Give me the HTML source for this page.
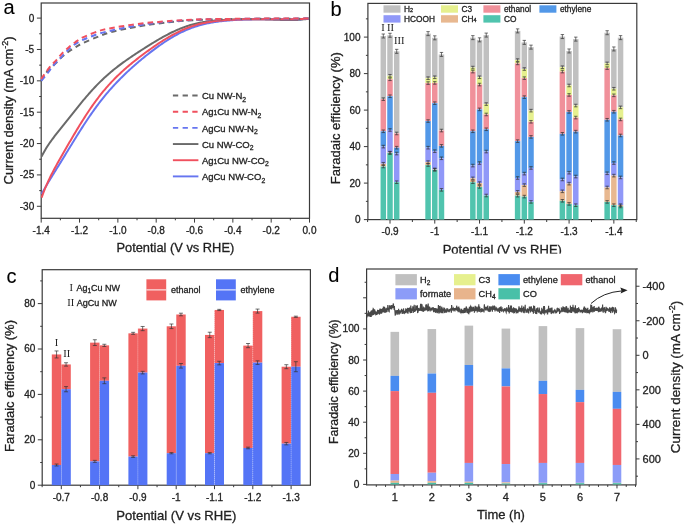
<!DOCTYPE html>
<html><head><meta charset="utf-8"><style>html,body{margin:0;padding:0;background:#fff;overflow:hidden}svg{display:block;will-change:transform}text{font-family:"Liberation Sans",sans-serif;stroke:#222;stroke-width:0.3px} .serif text{font-family:"Liberation Serif",serif;stroke-width:0}</style></head>
<body><svg width="685" height="524" viewBox="0 0 685 524">
<rect width="685" height="524" fill="#fff"/>
<text x="3.5" y="13.8" font-size="20" text-anchor="start" fill="#000" style="stroke-width:0.1px">a</text>
<text x="330.6" y="15.8" font-size="20" text-anchor="start" fill="#000" style="stroke-width:0.1px">b</text>
<text x="6.5" y="282.6" font-size="20" text-anchor="start" fill="#000" style="stroke-width:0.1px">c</text>
<text x="328.3" y="281.7" font-size="20" text-anchor="start" fill="#000" style="stroke-width:0.1px">d</text>
<rect x="41.2" y="3.0" width="268.3" height="215.3" fill="none" stroke="#3a3a3a" stroke-width="1.2"/>
<line x1="36.9" y1="18.1" x2="41.2" y2="18.1" stroke="#3a3a3a" stroke-width="1" />
<text x="34.2" y="21.5" font-size="10" text-anchor="end" fill="#1e1e1e" >0</text>
<line x1="36.9" y1="49.47" x2="41.2" y2="49.47" stroke="#3a3a3a" stroke-width="1" />
<text x="34.2" y="52.87" font-size="10" text-anchor="end" fill="#1e1e1e" >-5</text>
<line x1="36.9" y1="80.83" x2="41.2" y2="80.83" stroke="#3a3a3a" stroke-width="1" />
<text x="34.2" y="84.23" font-size="10" text-anchor="end" fill="#1e1e1e" >-10</text>
<line x1="36.9" y1="112.19" x2="41.2" y2="112.19" stroke="#3a3a3a" stroke-width="1" />
<text x="34.2" y="115.59" font-size="10" text-anchor="end" fill="#1e1e1e" >-15</text>
<line x1="36.9" y1="143.56" x2="41.2" y2="143.56" stroke="#3a3a3a" stroke-width="1" />
<text x="34.2" y="146.96" font-size="10" text-anchor="end" fill="#1e1e1e" >-20</text>
<line x1="36.9" y1="174.92" x2="41.2" y2="174.92" stroke="#3a3a3a" stroke-width="1" />
<text x="34.2" y="178.32" font-size="10" text-anchor="end" fill="#1e1e1e" >-25</text>
<line x1="36.9" y1="206.29" x2="41.2" y2="206.29" stroke="#3a3a3a" stroke-width="1" />
<text x="34.2" y="209.69" font-size="10" text-anchor="end" fill="#1e1e1e" >-30</text>
<line x1="39.2" y1="33.78" x2="41.2" y2="33.78" stroke="#3a3a3a" stroke-width="1" />
<line x1="39.2" y1="65.15" x2="41.2" y2="65.15" stroke="#3a3a3a" stroke-width="1" />
<line x1="39.2" y1="96.51" x2="41.2" y2="96.51" stroke="#3a3a3a" stroke-width="1" />
<line x1="39.2" y1="127.88" x2="41.2" y2="127.88" stroke="#3a3a3a" stroke-width="1" />
<line x1="39.2" y1="159.24" x2="41.2" y2="159.24" stroke="#3a3a3a" stroke-width="1" />
<line x1="39.2" y1="190.61" x2="41.2" y2="190.61" stroke="#3a3a3a" stroke-width="1" />
<line x1="41.2" y1="218.3" x2="41.2" y2="222.6" stroke="#3a3a3a" stroke-width="1" />
<text x="41.2" y="234" font-size="10" text-anchor="middle" fill="#1e1e1e" >-1.4</text>
<line x1="60.36" y1="218.3" x2="60.36" y2="220.3" stroke="#3a3a3a" stroke-width="1" />
<line x1="79.53" y1="218.3" x2="79.53" y2="222.6" stroke="#3a3a3a" stroke-width="1" />
<text x="79.53" y="234" font-size="10" text-anchor="middle" fill="#1e1e1e" >-1.2</text>
<line x1="98.69" y1="218.3" x2="98.69" y2="220.3" stroke="#3a3a3a" stroke-width="1" />
<line x1="117.86" y1="218.3" x2="117.86" y2="222.6" stroke="#3a3a3a" stroke-width="1" />
<text x="117.86" y="234" font-size="10" text-anchor="middle" fill="#1e1e1e" >-1.0</text>
<line x1="137.02" y1="218.3" x2="137.02" y2="220.3" stroke="#3a3a3a" stroke-width="1" />
<line x1="156.19" y1="218.3" x2="156.19" y2="222.6" stroke="#3a3a3a" stroke-width="1" />
<text x="156.19" y="234" font-size="10" text-anchor="middle" fill="#1e1e1e" >-0.8</text>
<line x1="175.35" y1="218.3" x2="175.35" y2="220.3" stroke="#3a3a3a" stroke-width="1" />
<line x1="194.52" y1="218.3" x2="194.52" y2="222.6" stroke="#3a3a3a" stroke-width="1" />
<text x="194.52" y="234" font-size="10" text-anchor="middle" fill="#1e1e1e" >-0.6</text>
<line x1="213.68" y1="218.3" x2="213.68" y2="220.3" stroke="#3a3a3a" stroke-width="1" />
<line x1="232.85" y1="218.3" x2="232.85" y2="222.6" stroke="#3a3a3a" stroke-width="1" />
<text x="232.85" y="234" font-size="10" text-anchor="middle" fill="#1e1e1e" >-0.4</text>
<line x1="252.01" y1="218.3" x2="252.01" y2="220.3" stroke="#3a3a3a" stroke-width="1" />
<line x1="271.18" y1="218.3" x2="271.18" y2="222.6" stroke="#3a3a3a" stroke-width="1" />
<text x="271.18" y="234" font-size="10" text-anchor="middle" fill="#1e1e1e" >-0.2</text>
<line x1="290.34" y1="218.3" x2="290.34" y2="220.3" stroke="#3a3a3a" stroke-width="1" />
<line x1="309.51" y1="218.3" x2="309.51" y2="222.6" stroke="#3a3a3a" stroke-width="1" />
<text x="309.51" y="234" font-size="10" text-anchor="middle" fill="#1e1e1e" >0.0</text>
<text x="175.35" y="252.2" font-size="12.85" text-anchor="middle" fill="#1e1e1e" >Potential (V vs RHE)</text>
<text transform="translate(13.2,110.4) rotate(-90)" font-size="13" text-anchor="middle" fill="#1e1e1e">Current density (mA cm<tspan font-size="9" dy="-4.8">-2</tspan><tspan dy="4.8">)</tspan></text>
<g fill="none" stroke-width="2" stroke-linejoin="round">
<path d="M41.60,156.54 L42.60,154.56 L43.60,152.68 L44.60,150.90 L45.60,149.20 L46.60,147.58 L47.60,146.01 L48.60,144.50 L49.60,143.04 L50.60,141.62 L51.60,140.23 L52.60,138.87 L53.60,137.53 L54.60,136.21 L55.60,134.91 L56.60,133.63 L57.60,132.35 L58.60,131.08 L59.60,129.82 L60.60,128.56 L61.60,127.30 L62.60,126.05 L63.60,124.80 L64.60,123.54 L65.60,122.29 L66.60,121.04 L67.60,119.78 L68.60,118.53 L69.60,117.27 L70.60,116.02 L71.60,114.76 L72.60,113.51 L73.60,112.26 L74.60,111.01 L75.60,109.76 L76.60,108.52 L77.60,107.28 L78.60,106.04 L79.60,104.82 L80.60,103.59 L81.60,102.38 L82.60,101.17 L83.60,99.98 L84.60,98.79 L85.60,97.61 L86.60,96.44 L87.60,95.28 L88.60,94.14 L89.60,93.00 L90.60,91.88 L91.60,90.77 L92.60,89.68 L93.60,88.59 L94.60,87.52 L95.60,86.47 L96.60,85.43 L97.60,84.40 L98.60,83.39 L99.60,82.39 L100.60,81.40 L101.60,80.43 L102.60,79.47 L103.60,78.53 L104.60,77.60 L105.60,76.69 L106.60,75.78 L107.60,74.89 L108.60,74.02 L109.60,73.15 L110.60,72.30 L111.60,71.46 L112.60,70.63 L113.60,69.81 L114.60,69.01 L115.60,68.21 L116.60,67.43 L117.60,66.65 L118.60,65.88 L119.60,65.13 L120.60,64.38 L121.60,63.64 L122.60,62.90 L123.60,62.18 L124.60,61.46 L125.60,60.74 L126.60,60.04 L127.60,59.34 L128.60,58.64 L129.60,57.95 L130.60,57.27 L131.60,56.59 L132.60,55.92 L133.60,55.24 L134.60,54.58 L135.60,53.91 L136.60,53.25 L137.60,52.60 L138.60,51.94 L139.60,51.29 L140.60,50.65 L141.60,50.00 L142.60,49.36 L143.60,48.72 L144.60,48.08 L145.60,47.45 L146.60,46.82 L147.60,46.19 L148.60,45.57 L149.60,44.94 L150.60,44.32 L151.60,43.71 L152.60,43.10 L153.60,42.49 L154.60,41.89 L155.60,41.29 L156.60,40.69 L157.60,40.10 L158.60,39.51 L159.60,38.93 L160.60,38.36 L161.60,37.79 L162.60,37.23 L163.60,36.67 L164.60,36.12 L165.60,35.58 L166.60,35.04 L167.60,34.52 L168.60,34.00 L169.60,33.49 L170.60,32.98 L171.60,32.49 L172.60,32.01 L173.60,31.53 L174.60,31.07 L175.60,30.61 L176.60,30.16 L177.60,29.73 L178.60,29.30 L179.60,28.89 L180.60,28.48 L181.60,28.09 L182.60,27.71 L183.60,27.33 L184.60,26.97 L185.60,26.62 L186.60,26.28 L187.60,25.95 L188.60,25.64 L189.60,25.33 L190.60,25.03 L191.60,24.74 L192.60,24.47 L193.60,24.20 L194.60,23.94 L195.60,23.70 L196.60,23.46 L197.60,23.23 L198.60,23.01 L199.60,22.80 L200.60,22.60 L201.60,22.41 L202.60,22.23 L203.60,22.05 L204.60,21.88 L205.60,21.72 L206.60,21.57 L207.60,21.43 L208.60,21.29 L209.60,21.16 L210.60,21.03 L211.60,20.91 L212.60,20.80 L213.60,20.69 L214.60,20.59 L215.60,20.49 L216.60,20.40 L217.60,20.31 L218.60,20.23 L219.60,20.15 L220.60,20.08 L221.60,20.01 L222.60,19.95 L223.60,19.88 L224.60,19.83 L225.60,19.77 L226.60,19.72 L227.60,19.67 L228.60,19.63 L229.60,19.59 L230.60,19.55 L231.60,19.51 L232.60,19.47 L233.60,19.44 L234.60,19.41 L235.60,19.39 L236.60,19.36 L237.60,19.34 L238.60,19.32 L239.60,19.30 L240.60,19.28 L241.60,19.26 L242.60,19.25 L243.60,19.24 L244.60,19.23 L245.60,19.22 L246.60,19.21 L247.60,19.21 L248.60,19.20 L249.60,19.20 L250.60,19.20 L251.60,19.20 L252.60,19.20 L253.60,19.21 L254.60,19.21 L255.60,19.22 L256.60,19.23 L257.60,19.24 L258.60,19.25 L259.60,19.27 L260.60,19.28 L261.60,19.30 L262.60,19.32 L263.60,19.34 L264.60,19.36 L265.60,19.38 L266.60,19.41 L267.60,19.43 L268.60,19.46 L269.60,19.49 L270.60,19.53 L271.60,19.56 L272.60,19.59 L273.60,19.63 L274.60,19.67 L275.60,19.70 L276.60,19.74 L277.60,19.78 L278.60,19.82 L279.60,19.86 L280.60,19.89 L281.60,19.93 L282.60,19.97 L283.60,20.00 L284.60,20.03 L285.60,20.06 L286.60,20.08 L287.60,20.10 L288.60,20.11 L289.60,20.11 L290.60,20.11 L291.60,20.11 L292.60,20.09 L293.60,20.07 L294.60,20.03 L295.60,19.99 L296.60,19.94 L297.60,19.88 L298.60,19.81 L299.60,19.74 L300.60,19.65 L301.60,19.56 L302.60,19.47 L303.60,19.37 L304.60,19.27 L305.60,19.16 L306.60,19.06 L307.60,18.96 L308.60,18.86" stroke="#6a6a6a"/>
<path d="M41.60,194.04 L42.60,192.19 L43.60,190.39 L44.60,188.63 L45.60,186.90 L46.60,185.19 L47.60,183.51 L48.60,181.85 L49.60,180.20 L50.60,178.56 L51.60,176.93 L52.60,175.31 L53.60,173.69 L54.60,172.07 L55.60,170.46 L56.60,168.84 L57.60,167.23 L58.60,165.61 L59.60,163.99 L60.60,162.37 L61.60,160.75 L62.60,159.12 L63.60,157.49 L64.60,155.86 L65.60,154.23 L66.60,152.60 L67.60,150.96 L68.60,149.33 L69.60,147.69 L70.60,146.06 L71.60,144.43 L72.60,142.80 L73.60,141.17 L74.60,139.55 L75.60,137.94 L76.60,136.33 L77.60,134.73 L78.60,133.13 L79.60,131.55 L80.60,129.97 L81.60,128.40 L82.60,126.84 L83.60,125.30 L84.60,123.76 L85.60,122.24 L86.60,120.73 L87.60,119.24 L88.60,117.76 L89.60,116.29 L90.60,114.84 L91.60,113.40 L92.60,111.98 L93.60,110.57 L94.60,109.18 L95.60,107.80 L96.60,106.44 L97.60,105.10 L98.60,103.77 L99.60,102.46 L100.60,101.17 L101.60,99.89 L102.60,98.63 L103.60,97.38 L104.60,96.15 L105.60,94.93 L106.60,93.73 L107.60,92.55 L108.60,91.38 L109.60,90.22 L110.60,89.08 L111.60,87.96 L112.60,86.85 L113.60,85.75 L114.60,84.66 L115.60,83.59 L116.60,82.53 L117.60,81.49 L118.60,80.45 L119.60,79.43 L120.60,78.42 L121.60,77.42 L122.60,76.43 L123.60,75.45 L124.60,74.48 L125.60,73.53 L126.60,72.58 L127.60,71.64 L128.60,70.71 L129.60,69.78 L130.60,68.87 L131.60,67.97 L132.60,67.07 L133.60,66.18 L134.60,65.30 L135.60,64.42 L136.60,63.56 L137.60,62.70 L138.60,61.84 L139.60,61.00 L140.60,60.16 L141.60,59.32 L142.60,58.50 L143.60,57.68 L144.60,56.86 L145.60,56.06 L146.60,55.26 L147.60,54.46 L148.60,53.67 L149.60,52.89 L150.60,52.12 L151.60,51.35 L152.60,50.59 L153.60,49.83 L154.60,49.09 L155.60,48.35 L156.60,47.62 L157.60,46.89 L158.60,46.17 L159.60,45.46 L160.60,44.76 L161.60,44.07 L162.60,43.38 L163.60,42.71 L164.60,42.04 L165.60,41.38 L166.60,40.73 L167.60,40.09 L168.60,39.46 L169.60,38.84 L170.60,38.23 L171.60,37.63 L172.60,37.04 L173.60,36.46 L174.60,35.89 L175.60,35.33 L176.60,34.79 L177.60,34.25 L178.60,33.73 L179.60,33.21 L180.60,32.71 L181.60,32.22 L182.60,31.74 L183.60,31.27 L184.60,30.81 L185.60,30.37 L186.60,29.94 L187.60,29.51 L188.60,29.10 L189.60,28.70 L190.60,28.32 L191.60,27.94 L192.60,27.58 L193.60,27.22 L194.60,26.88 L195.60,26.55 L196.60,26.23 L197.60,25.92 L198.60,25.62 L199.60,25.33 L200.60,25.05 L201.60,24.78 L202.60,24.52 L203.60,24.27 L204.60,24.03 L205.60,23.79 L206.60,23.57 L207.60,23.36 L208.60,23.15 L209.60,22.95 L210.60,22.76 L211.60,22.58 L212.60,22.41 L213.60,22.24 L214.60,22.08 L215.60,21.93 L216.60,21.78 L217.60,21.64 L218.60,21.50 L219.60,21.38 L220.60,21.25 L221.60,21.14 L222.60,21.03 L223.60,20.92 L224.60,20.82 L225.60,20.72 L226.60,20.63 L227.60,20.54 L228.60,20.46 L229.60,20.38 L230.60,20.30 L231.60,20.23 L232.60,20.17 L233.60,20.10 L234.60,20.04 L235.60,19.98 L236.60,19.93 L237.60,19.87 L238.60,19.82 L239.60,19.78 L240.60,19.73 L241.60,19.69 L242.60,19.65 L243.60,19.61 L244.60,19.58 L245.60,19.55 L246.60,19.51 L247.60,19.49 L248.60,19.46 L249.60,19.43 L250.60,19.41 L251.60,19.39 L252.60,19.36 L253.60,19.34 L254.60,19.33 L255.60,19.31 L256.60,19.29 L257.60,19.28 L258.60,19.27 L259.60,19.26 L260.60,19.25 L261.60,19.24 L262.60,19.23 L263.60,19.22 L264.60,19.21 L265.60,19.21 L266.60,19.20 L267.60,19.20 L268.60,19.20 L269.60,19.20 L270.60,19.19 L271.60,19.19 L272.60,19.19 L273.60,19.19 L274.60,19.20 L275.60,19.20 L276.60,19.20 L277.60,19.20 L278.60,19.20 L279.60,19.21 L280.60,19.21 L281.60,19.21 L282.60,19.22 L283.60,19.22 L284.60,19.22 L285.60,19.23 L286.60,19.23 L287.60,19.23 L288.60,19.23 L289.60,19.23 L290.60,19.23 L291.60,19.23 L292.60,19.23 L293.60,19.23 L294.60,19.22 L295.60,19.21 L296.60,19.20 L297.60,19.19 L298.60,19.18 L299.60,19.17 L300.60,19.15 L301.60,19.13 L302.60,19.11 L303.60,19.08 L304.60,19.06 L305.60,19.03 L306.60,18.99 L307.60,18.96 L308.60,18.93" stroke="#6675f0"/>
<path d="M41.60,197.67 L42.60,194.86 L43.60,192.19 L44.60,189.65 L45.60,187.22 L46.60,184.88 L47.60,182.63 L48.60,180.46 L49.60,178.35 L50.60,176.30 L51.60,174.30 L52.60,172.35 L53.60,170.43 L54.60,168.55 L55.60,166.69 L56.60,164.86 L57.60,163.04 L58.60,161.25 L59.60,159.46 L60.60,157.69 L61.60,155.93 L62.60,154.18 L63.60,152.44 L64.60,150.70 L65.60,148.97 L66.60,147.24 L67.60,145.52 L68.60,143.80 L69.60,142.09 L70.60,140.38 L71.60,138.68 L72.60,136.99 L73.60,135.30 L74.60,133.62 L75.60,131.95 L76.60,130.28 L77.60,128.63 L78.60,126.99 L79.60,125.35 L80.60,123.73 L81.60,122.12 L82.60,120.53 L83.60,118.94 L84.60,117.38 L85.60,115.82 L86.60,114.29 L87.60,112.77 L88.60,111.27 L89.60,109.78 L90.60,108.31 L91.60,106.86 L92.60,105.43 L93.60,104.02 L94.60,102.63 L95.60,101.26 L96.60,99.90 L97.60,98.57 L98.60,97.26 L99.60,95.96 L100.60,94.69 L101.60,93.43 L102.60,92.20 L103.60,90.98 L104.60,89.78 L105.60,88.60 L106.60,87.44 L107.60,86.30 L108.60,85.18 L109.60,84.07 L110.60,82.99 L111.60,81.92 L112.60,80.86 L113.60,79.82 L114.60,78.80 L115.60,77.79 L116.60,76.80 L117.60,75.82 L118.60,74.86 L119.60,73.91 L120.60,72.97 L121.60,72.04 L122.60,71.13 L123.60,70.23 L124.60,69.34 L125.60,68.46 L126.60,67.59 L127.60,66.73 L128.60,65.88 L129.60,65.04 L130.60,64.21 L131.60,63.39 L132.60,62.57 L133.60,61.76 L134.60,60.96 L135.60,60.17 L136.60,59.38 L137.60,58.60 L138.60,57.82 L139.60,57.05 L140.60,56.29 L141.60,55.53 L142.60,54.78 L143.60,54.03 L144.60,53.29 L145.60,52.56 L146.60,51.82 L147.60,51.10 L148.60,50.38 L149.60,49.66 L150.60,48.95 L151.60,48.24 L152.60,47.54 L153.60,46.85 L154.60,46.16 L155.60,45.47 L156.60,44.79 L157.60,44.12 L158.60,43.45 L159.60,42.79 L160.60,42.14 L161.60,41.49 L162.60,40.85 L163.60,40.22 L164.60,39.60 L165.60,38.98 L166.60,38.37 L167.60,37.77 L168.60,37.18 L169.60,36.60 L170.60,36.02 L171.60,35.46 L172.60,34.90 L173.60,34.36 L174.60,33.82 L175.60,33.30 L176.60,32.79 L177.60,32.28 L178.60,31.79 L179.60,31.31 L180.60,30.84 L181.60,30.38 L182.60,29.93 L183.60,29.50 L184.60,29.07 L185.60,28.66 L186.60,28.26 L187.60,27.87 L188.60,27.49 L189.60,27.12 L190.60,26.76 L191.60,26.42 L192.60,26.09 L193.60,25.76 L194.60,25.45 L195.60,25.15 L196.60,24.86 L197.60,24.58 L198.60,24.32 L199.60,24.06 L200.60,23.81 L201.60,23.57 L202.60,23.34 L203.60,23.12 L204.60,22.91 L205.60,22.71 L206.60,22.51 L207.60,22.33 L208.60,22.15 L209.60,21.98 L210.60,21.82 L211.60,21.67 L212.60,21.52 L213.60,21.38 L214.60,21.25 L215.60,21.12 L216.60,21.00 L217.60,20.88 L218.60,20.77 L219.60,20.67 L220.60,20.57 L221.60,20.48 L222.60,20.39 L223.60,20.30 L224.60,20.22 L225.60,20.15 L226.60,20.08 L227.60,20.01 L228.60,19.94 L229.60,19.88 L230.60,19.83 L231.60,19.77 L232.60,19.72 L233.60,19.67 L234.60,19.63 L235.60,19.59 L236.60,19.55 L237.60,19.51 L238.60,19.47 L239.60,19.44 L240.60,19.41 L241.60,19.38 L242.60,19.35 L243.60,19.33 L244.60,19.31 L245.60,19.29 L246.60,19.27 L247.60,19.25 L248.60,19.23 L249.60,19.22 L250.60,19.20 L251.60,19.19 L252.60,19.18 L253.60,19.17 L254.60,19.16 L255.60,19.16 L256.60,19.15 L257.60,19.15 L258.60,19.14 L259.60,19.14 L260.60,19.14 L261.60,19.14 L262.60,19.14 L263.60,19.14 L264.60,19.15 L265.60,19.15 L266.60,19.15 L267.60,19.16 L268.60,19.17 L269.60,19.17 L270.60,19.18 L271.60,19.19 L272.60,19.20 L273.60,19.20 L274.60,19.21 L275.60,19.22 L276.60,19.23 L277.60,19.24 L278.60,19.25 L279.60,19.26 L280.60,19.27 L281.60,19.28 L282.60,19.28 L283.60,19.29 L284.60,19.29 L285.60,19.30 L286.60,19.30 L287.60,19.30 L288.60,19.29 L289.60,19.29 L290.60,19.28 L291.60,19.27 L292.60,19.25 L293.60,19.24 L294.60,19.22 L295.60,19.19 L296.60,19.16 L297.60,19.13 L298.60,19.10 L299.60,19.06 L300.60,19.02 L301.60,18.98 L302.60,18.93 L303.60,18.88 L304.60,18.83 L305.60,18.78 L306.60,18.73 L307.60,18.68 L308.60,18.63" stroke="#f0505e"/>
<path d="M41.2,80.8 C42.12,79.37 44.67,74.75 46.7,72.2 C48.73,69.65 51.18,67.72 53.4,65.5 C55.62,63.28 57.78,60.97 60,58.9 C62.22,56.83 64.3,54.93 66.7,53.1 C69.1,51.27 71.7,49.57 74.4,47.9 C77.1,46.23 78.83,45.02 82.9,43.1 C86.97,41.18 94.37,38.15 98.8,36.4 C103.23,34.65 105.97,33.67 109.5,32.6 C113.03,31.53 115.65,30.93 120,30 C124.35,29.07 129.23,28.08 135.6,27 C141.97,25.92 148.05,24.67 158.2,23.5 C168.35,22.33 181.03,20.77 196.5,20 C211.97,19.23 232.2,19.13 251,18.9 C269.8,18.67 299.58,18.65 309.3,18.6" stroke="#6a6a6a" stroke-dasharray="5.6,4.1"/>
<path d="M41.2,80.8 C42.27,79.53 45.57,75.75 47.6,73.2 C49.63,70.65 51.33,67.97 53.4,65.5 C55.47,63.03 57.93,60.62 60,58.4 C62.07,56.18 63.73,54.27 65.8,52.2 C67.87,50.13 70.02,47.83 72.4,46 C74.78,44.17 77.38,42.63 80.1,41.2 C82.82,39.77 85.58,38.65 88.7,37.4 C91.82,36.15 95.33,34.77 98.8,33.7 C102.27,32.63 105.97,31.83 109.5,31 C113.03,30.17 115.65,29.57 120,28.7 C124.35,27.83 129.23,26.82 135.6,25.8 C141.97,24.78 148.05,23.62 158.2,22.6 C168.35,21.58 181.03,20.33 196.5,19.7 C211.97,19.07 232.2,18.98 251,18.8 C269.8,18.62 299.58,18.63 309.3,18.6" stroke="#6675f0" stroke-dasharray="5.6,4.1"/>
<path d="M41.2,78.9 C42.58,76.98 47,70.5 49.5,67.4 C52,64.3 54.13,62.6 56.2,60.3 C58.27,58 59.83,55.75 61.9,53.6 C63.97,51.45 66.37,49.3 68.6,47.4 C70.83,45.5 72.92,43.87 75.3,42.2 C77.68,40.53 78.98,39.27 82.9,37.4 C86.82,35.53 94.37,32.5 98.8,31 C103.23,29.5 105.97,29.13 109.5,28.4 C113.03,27.67 115.65,27.3 120,26.6 C124.35,25.9 129.23,24.98 135.6,24.2 C141.97,23.42 148.05,22.68 158.2,21.9 C168.35,21.12 181.03,20.03 196.5,19.5 C211.97,18.97 232.2,18.87 251,18.7 C269.8,18.53 299.58,18.53 309.3,18.5" stroke="#f0505e" stroke-dasharray="5.6,4.1"/>
</g>
<line x1="172.9" y1="95.5" x2="198.4" y2="95.5" stroke="#6a6a6a" stroke-width="1.9" stroke-dasharray="5.3,4.4"/>
<text x="201.9" y="99.2" font-size="9.5" fill="#1e1e1e">Cu NW-N<tspan font-size="6.8" dy="2.4">2</tspan></text>
<line x1="172.9" y1="111.68" x2="198.4" y2="111.68" stroke="#f0505e" stroke-width="1.9" stroke-dasharray="5.3,4.4"/>
<text x="201.9" y="115.38" font-size="9.5" fill="#1e1e1e">Ag<tspan font-size="6.5">1</tspan>Cu NW-N<tspan font-size="6.8" dy="2.4">2</tspan></text>
<line x1="172.9" y1="127.86" x2="198.4" y2="127.86" stroke="#6675f0" stroke-width="1.9" stroke-dasharray="5.3,4.4"/>
<text x="201.9" y="131.56" font-size="9.5" fill="#1e1e1e">AgCu NW-N<tspan font-size="6.8" dy="2.4">2</tspan></text>
<line x1="172.9" y1="144.04" x2="198.4" y2="144.04" stroke="#6a6a6a" stroke-width="1.9" />
<text x="201.9" y="147.74" font-size="9.5" fill="#1e1e1e">Cu NW-CO<tspan font-size="6.8" dy="2.4">2</tspan></text>
<line x1="172.9" y1="160.22" x2="198.4" y2="160.22" stroke="#f0505e" stroke-width="1.9" />
<text x="201.9" y="163.92" font-size="9.5" fill="#1e1e1e">Ag<tspan font-size="6.5">1</tspan>Cu NW-CO<tspan font-size="6.8" dy="2.4">2</tspan></text>
<line x1="172.9" y1="176.4" x2="198.4" y2="176.4" stroke="#6675f0" stroke-width="1.9" />
<text x="201.9" y="180.1" font-size="9.5" fill="#1e1e1e">AgCu NW-CO<tspan font-size="6.8" dy="2.4">2</tspan></text>
<rect x="367.9" y="3.4" width="268.9" height="216.2" fill="none" stroke="#3a3a3a" stroke-width="1.2"/>
<line x1="363.9" y1="219.6" x2="367.9" y2="219.6" stroke="#3a3a3a" stroke-width="1" />
<text x="360.5" y="223" font-size="10" text-anchor="end" fill="#1e1e1e" >0</text>
<line x1="363.9" y1="183.1" x2="367.9" y2="183.1" stroke="#3a3a3a" stroke-width="1" />
<text x="360.5" y="186.5" font-size="10" text-anchor="end" fill="#1e1e1e" >20</text>
<line x1="363.9" y1="146.6" x2="367.9" y2="146.6" stroke="#3a3a3a" stroke-width="1" />
<text x="360.5" y="150" font-size="10" text-anchor="end" fill="#1e1e1e" >40</text>
<line x1="363.9" y1="110.1" x2="367.9" y2="110.1" stroke="#3a3a3a" stroke-width="1" />
<text x="360.5" y="113.5" font-size="10" text-anchor="end" fill="#1e1e1e" >60</text>
<line x1="363.9" y1="73.6" x2="367.9" y2="73.6" stroke="#3a3a3a" stroke-width="1" />
<text x="360.5" y="77" font-size="10" text-anchor="end" fill="#1e1e1e" >80</text>
<line x1="363.9" y1="37.1" x2="367.9" y2="37.1" stroke="#3a3a3a" stroke-width="1" />
<text x="360.5" y="40.5" font-size="10" text-anchor="end" fill="#1e1e1e" >100</text>
<line x1="365.9" y1="201.35" x2="367.9" y2="201.35" stroke="#3a3a3a" stroke-width="1" />
<line x1="365.9" y1="164.85" x2="367.9" y2="164.85" stroke="#3a3a3a" stroke-width="1" />
<line x1="365.9" y1="128.35" x2="367.9" y2="128.35" stroke="#3a3a3a" stroke-width="1" />
<line x1="365.9" y1="91.85" x2="367.9" y2="91.85" stroke="#3a3a3a" stroke-width="1" />
<line x1="365.9" y1="55.35" x2="367.9" y2="55.35" stroke="#3a3a3a" stroke-width="1" />
<line x1="365.9" y1="18.85" x2="367.9" y2="18.85" stroke="#3a3a3a" stroke-width="1" />
<line x1="390" y1="219.6" x2="390" y2="223.6" stroke="#3a3a3a" stroke-width="1" />
<text x="390" y="235.3" font-size="10" text-anchor="middle" fill="#1e1e1e" >-0.9</text>
<line x1="412.38" y1="219.6" x2="412.38" y2="222" stroke="#3a3a3a" stroke-width="1" />
<line x1="434.77" y1="219.6" x2="434.77" y2="223.6" stroke="#3a3a3a" stroke-width="1" />
<text x="434.77" y="235.3" font-size="10" text-anchor="middle" fill="#1e1e1e" >-1</text>
<line x1="457.15" y1="219.6" x2="457.15" y2="222" stroke="#3a3a3a" stroke-width="1" />
<line x1="479.54" y1="219.6" x2="479.54" y2="223.6" stroke="#3a3a3a" stroke-width="1" />
<text x="479.54" y="235.3" font-size="10" text-anchor="middle" fill="#1e1e1e" >-1.1</text>
<line x1="501.93" y1="219.6" x2="501.93" y2="222" stroke="#3a3a3a" stroke-width="1" />
<line x1="524.31" y1="219.6" x2="524.31" y2="223.6" stroke="#3a3a3a" stroke-width="1" />
<text x="524.31" y="235.3" font-size="10" text-anchor="middle" fill="#1e1e1e" >-1.2</text>
<line x1="546.69" y1="219.6" x2="546.69" y2="222" stroke="#3a3a3a" stroke-width="1" />
<line x1="569.08" y1="219.6" x2="569.08" y2="223.6" stroke="#3a3a3a" stroke-width="1" />
<text x="569.08" y="235.3" font-size="10" text-anchor="middle" fill="#1e1e1e" >-1.3</text>
<line x1="591.47" y1="219.6" x2="591.47" y2="222" stroke="#3a3a3a" stroke-width="1" />
<line x1="613.85" y1="219.6" x2="613.85" y2="223.6" stroke="#3a3a3a" stroke-width="1" />
<text x="613.85" y="235.3" font-size="10" text-anchor="middle" fill="#1e1e1e" >-1.4</text>
<line x1="636.24" y1="219.6" x2="636.24" y2="222" stroke="#3a3a3a" stroke-width="1" />
<line x1="367.62" y1="219.6" x2="367.62" y2="222" stroke="#3a3a3a" stroke-width="1" />
<text x="502.3" y="254.4" font-size="13" text-anchor="middle" fill="#1e1e1e" >Potential (V vs RHE)</text>
<rect x="420" y="253.6" width="160" height="6" fill="#fff" />
<text transform="translate(339.5,118.2) rotate(-90)" font-size="13" text-anchor="middle" fill="#222">Faradaic efficiency (%)</text>
<rect x="380.55" y="36" width="5.5" height="63.14" fill="#c0c0c0" />
<rect x="380.55" y="99.15" width="5.5" height="32.12" fill="#f0909a" />
<rect x="380.55" y="131.27" width="5.5" height="15.33" fill="#5298e8" />
<rect x="380.55" y="146.6" width="5.5" height="17.16" fill="#9098f8" />
<rect x="380.55" y="163.75" width="5.5" height="2.74" fill="#e8b890" />
<rect x="380.55" y="166.49" width="5.5" height="53.11" fill="#50c4ae" />
<path d="M381.6,34h3.4M383.3,34v4M381.6,38h3.4" stroke="#333" stroke-width="0.7" fill="none"/>
<path d="M381.6,97.85h3.4M383.3,97.85v2.6M381.6,100.45h3.4" stroke="#333" stroke-width="0.7" fill="none"/>
<path d="M381.6,129.97h3.4M383.3,129.97v2.6M381.6,132.57h3.4" stroke="#333" stroke-width="0.7" fill="none"/>
<path d="M381.6,145.3h3.4M383.3,145.3v2.6M381.6,147.9h3.4" stroke="#333" stroke-width="0.7" fill="none"/>
<path d="M381.6,162.45h3.4M383.3,162.45v2.6M381.6,165.06h3.4" stroke="#333" stroke-width="0.7" fill="none"/>
<path d="M381.6,165.19h3.4M383.3,165.19v2.6M381.6,167.79h3.4" stroke="#333" stroke-width="0.7" fill="none"/>
<rect x="387.25" y="35.28" width="5.5" height="40.51" fill="#c0c0c0" />
<rect x="387.25" y="75.79" width="5.5" height="3.47" fill="#e6f08e" />
<rect x="387.25" y="79.26" width="5.5" height="16.97" fill="#f0909a" />
<rect x="387.25" y="96.23" width="5.5" height="33.76" fill="#5298e8" />
<rect x="387.25" y="129.99" width="5.5" height="22.63" fill="#9098f8" />
<rect x="387.25" y="152.62" width="5.5" height="0.37" fill="#e8b890" />
<rect x="387.25" y="152.99" width="5.5" height="66.61" fill="#50c4ae" />
<path d="M388.3,33.28h3.4M390,33.28v4M388.3,37.28h3.4" stroke="#333" stroke-width="0.7" fill="none"/>
<path d="M388.3,74.49h3.4M390,74.49v2.6M388.3,77.09h3.4" stroke="#333" stroke-width="0.7" fill="none"/>
<path d="M388.3,77.96h3.4M390,77.96v2.6M388.3,80.56h3.4" stroke="#333" stroke-width="0.7" fill="none"/>
<path d="M388.3,94.93h3.4M390,94.93v2.6M388.3,97.53h3.4" stroke="#333" stroke-width="0.7" fill="none"/>
<path d="M388.3,128.69h3.4M390,128.69v2.6M388.3,131.29h3.4" stroke="#333" stroke-width="0.7" fill="none"/>
<path d="M388.3,151.32h3.4M390,151.32v2.6M388.3,153.92h3.4" stroke="#333" stroke-width="0.7" fill="none"/>
<path d="M388.3,151.69h3.4M390,151.69v2.6M388.3,154.29h3.4" stroke="#333" stroke-width="0.7" fill="none"/>
<rect x="393.95" y="51.33" width="5.5" height="82.12" fill="#c0c0c0" />
<rect x="393.95" y="133.46" width="5.5" height="14.24" fill="#f0909a" />
<rect x="393.95" y="147.69" width="5.5" height="5.84" fill="#5298e8" />
<rect x="393.95" y="153.53" width="5.5" height="28.65" fill="#9098f8" />
<rect x="393.95" y="182.19" width="5.5" height="37.41" fill="#50c4ae" />
<path d="M395,49.33h3.4M396.7,49.33v4M395,53.33h3.4" stroke="#333" stroke-width="0.7" fill="none"/>
<path d="M395,132.16h3.4M396.7,132.16v2.6M395,134.76h3.4" stroke="#333" stroke-width="0.7" fill="none"/>
<path d="M395,146.39h3.4M396.7,146.39v2.6M395,149h3.4" stroke="#333" stroke-width="0.7" fill="none"/>
<path d="M395,152.23h3.4M396.7,152.23v2.6M395,154.84h3.4" stroke="#333" stroke-width="0.7" fill="none"/>
<path d="M395,180.89h3.4M396.7,180.89v2.6M395,183.49h3.4" stroke="#333" stroke-width="0.7" fill="none"/>
<rect x="425.32" y="33.63" width="5.5" height="44.53" fill="#c0c0c0" />
<rect x="425.32" y="78.16" width="5.5" height="4.93" fill="#e6f08e" />
<rect x="425.32" y="83.09" width="5.5" height="37.96" fill="#f0909a" />
<rect x="425.32" y="121.05" width="5.5" height="26.64" fill="#5298e8" />
<rect x="425.32" y="147.69" width="5.5" height="14.42" fill="#9098f8" />
<rect x="425.32" y="162.11" width="5.5" height="2.92" fill="#e8b890" />
<rect x="425.32" y="165.03" width="5.5" height="54.57" fill="#50c4ae" />
<path d="M426.37,31.63h3.4M428.07,31.63v4M426.37,35.63h3.4" stroke="#333" stroke-width="0.7" fill="none"/>
<path d="M426.37,76.86h3.4M428.07,76.86v2.6M426.37,79.46h3.4" stroke="#333" stroke-width="0.7" fill="none"/>
<path d="M426.37,81.79h3.4M428.07,81.79v2.6M426.37,84.39h3.4" stroke="#333" stroke-width="0.7" fill="none"/>
<path d="M426.37,119.75h3.4M428.07,119.75v2.6M426.37,122.35h3.4" stroke="#333" stroke-width="0.7" fill="none"/>
<path d="M426.37,146.39h3.4M428.07,146.39v2.6M426.37,149h3.4" stroke="#333" stroke-width="0.7" fill="none"/>
<path d="M426.37,160.81h3.4M428.07,160.81v2.6M426.37,163.41h3.4" stroke="#333" stroke-width="0.7" fill="none"/>
<path d="M426.37,163.73h3.4M428.07,163.73v2.6M426.37,166.33h3.4" stroke="#333" stroke-width="0.7" fill="none"/>
<rect x="432.02" y="37.83" width="5.5" height="39.42" fill="#c0c0c0" />
<rect x="432.02" y="77.25" width="5.5" height="5.66" fill="#e6f08e" />
<rect x="432.02" y="82.91" width="5.5" height="20.26" fill="#f0909a" />
<rect x="432.02" y="103.17" width="5.5" height="48" fill="#5298e8" />
<rect x="432.02" y="151.16" width="5.5" height="18.25" fill="#9098f8" />
<rect x="432.02" y="169.41" width="5.5" height="0.37" fill="#e8b890" />
<rect x="432.02" y="169.78" width="5.5" height="49.82" fill="#50c4ae" />
<path d="M433.07,35.83h3.4M434.77,35.83v4M433.07,39.83h3.4" stroke="#333" stroke-width="0.7" fill="none"/>
<path d="M433.07,75.95h3.4M434.77,75.95v2.6M433.07,78.55h3.4" stroke="#333" stroke-width="0.7" fill="none"/>
<path d="M433.07,81.61h3.4M434.77,81.61v2.6M433.07,84.21h3.4" stroke="#333" stroke-width="0.7" fill="none"/>
<path d="M433.07,101.87h3.4M434.77,101.87v2.6M433.07,104.47h3.4" stroke="#333" stroke-width="0.7" fill="none"/>
<path d="M433.07,149.86h3.4M434.77,149.86v2.6M433.07,152.46h3.4" stroke="#333" stroke-width="0.7" fill="none"/>
<path d="M433.07,168.11h3.4M434.77,168.11v2.6M433.07,170.71h3.4" stroke="#333" stroke-width="0.7" fill="none"/>
<path d="M433.07,168.48h3.4M434.77,168.48v2.6M433.07,171.08h3.4" stroke="#333" stroke-width="0.7" fill="none"/>
<rect x="438.72" y="54.44" width="5.5" height="76.1" fill="#c0c0c0" />
<rect x="438.72" y="130.54" width="5.5" height="15.33" fill="#f0909a" />
<rect x="438.72" y="145.87" width="5.5" height="12.41" fill="#5298e8" />
<rect x="438.72" y="158.28" width="5.5" height="31.57" fill="#9098f8" />
<rect x="438.72" y="189.85" width="5.5" height="29.75" fill="#50c4ae" />
<path d="M439.77,52.44h3.4M441.47,52.44v4M439.77,56.44h3.4" stroke="#333" stroke-width="0.7" fill="none"/>
<path d="M439.77,129.24h3.4M441.47,129.24v2.6M439.77,131.84h3.4" stroke="#333" stroke-width="0.7" fill="none"/>
<path d="M439.77,144.57h3.4M441.47,144.57v2.6M439.77,147.17h3.4" stroke="#333" stroke-width="0.7" fill="none"/>
<path d="M439.77,156.98h3.4M441.47,156.98v2.6M439.77,159.58h3.4" stroke="#333" stroke-width="0.7" fill="none"/>
<path d="M439.77,188.55h3.4M441.47,188.55v2.6M439.77,191.15h3.4" stroke="#333" stroke-width="0.7" fill="none"/>
<rect x="470.09" y="37.65" width="5.5" height="29.93" fill="#c0c0c0" />
<rect x="470.09" y="67.58" width="5.5" height="4.01" fill="#e6f08e" />
<rect x="470.09" y="71.59" width="5.5" height="59.68" fill="#f0909a" />
<rect x="470.09" y="131.27" width="5.5" height="34.31" fill="#5298e8" />
<rect x="470.09" y="165.58" width="5.5" height="12.78" fill="#9098f8" />
<rect x="470.09" y="178.35" width="5.5" height="3.83" fill="#e8b890" />
<rect x="470.09" y="182.19" width="5.5" height="37.41" fill="#50c4ae" />
<path d="M471.14,35.65h3.4M472.84,35.65v4M471.14,39.65h3.4" stroke="#333" stroke-width="0.7" fill="none"/>
<path d="M471.14,66.28h3.4M472.84,66.28v2.6M471.14,68.88h3.4" stroke="#333" stroke-width="0.7" fill="none"/>
<path d="M471.14,70.29h3.4M472.84,70.29v2.6M471.14,72.89h3.4" stroke="#333" stroke-width="0.7" fill="none"/>
<path d="M471.14,129.97h3.4M472.84,129.97v2.6M471.14,132.57h3.4" stroke="#333" stroke-width="0.7" fill="none"/>
<path d="M471.14,164.28h3.4M472.84,164.28v2.6M471.14,166.88h3.4" stroke="#333" stroke-width="0.7" fill="none"/>
<path d="M471.14,177.05h3.4M472.84,177.05v2.6M471.14,179.66h3.4" stroke="#333" stroke-width="0.7" fill="none"/>
<path d="M471.14,180.89h3.4M472.84,180.89v2.6M471.14,183.49h3.4" stroke="#333" stroke-width="0.7" fill="none"/>
<rect x="476.79" y="39.84" width="5.5" height="37.41" fill="#c0c0c0" />
<rect x="476.79" y="77.25" width="5.5" height="7.3" fill="#e6f08e" />
<rect x="476.79" y="84.55" width="5.5" height="24.82" fill="#f0909a" />
<rect x="476.79" y="109.37" width="5.5" height="53.66" fill="#5298e8" />
<rect x="476.79" y="163.03" width="5.5" height="20.07" fill="#9098f8" />
<rect x="476.79" y="183.1" width="5.5" height="3.83" fill="#e8b890" />
<rect x="476.79" y="186.93" width="5.5" height="32.67" fill="#50c4ae" />
<path d="M477.84,37.84h3.4M479.54,37.84v4M477.84,41.84h3.4" stroke="#333" stroke-width="0.7" fill="none"/>
<path d="M477.84,75.95h3.4M479.54,75.95v2.6M477.84,78.55h3.4" stroke="#333" stroke-width="0.7" fill="none"/>
<path d="M477.84,83.25h3.4M479.54,83.25v2.6M477.84,85.85h3.4" stroke="#333" stroke-width="0.7" fill="none"/>
<path d="M477.84,108.07h3.4M479.54,108.07v2.6M477.84,110.67h3.4" stroke="#333" stroke-width="0.7" fill="none"/>
<path d="M477.84,161.72h3.4M479.54,161.72v2.6M477.84,164.33h3.4" stroke="#333" stroke-width="0.7" fill="none"/>
<path d="M477.84,181.8h3.4M479.54,181.8v2.6M477.84,184.4h3.4" stroke="#333" stroke-width="0.7" fill="none"/>
<path d="M477.84,185.63h3.4M479.54,185.63v2.6M477.84,188.23h3.4" stroke="#333" stroke-width="0.7" fill="none"/>
<rect x="483.49" y="35.09" width="5.5" height="68.98" fill="#c0c0c0" />
<rect x="483.49" y="104.08" width="5.5" height="10.4" fill="#e6f08e" />
<rect x="483.49" y="114.48" width="5.5" height="14.78" fill="#f0909a" />
<rect x="483.49" y="129.26" width="5.5" height="22.27" fill="#5298e8" />
<rect x="483.49" y="151.53" width="5.5" height="43.98" fill="#9098f8" />
<rect x="483.49" y="195.51" width="5.5" height="24.09" fill="#50c4ae" />
<path d="M484.54,33.09h3.4M486.24,33.09v4M484.54,37.09h3.4" stroke="#333" stroke-width="0.7" fill="none"/>
<path d="M484.54,102.78h3.4M486.24,102.78v2.6M484.54,105.38h3.4" stroke="#333" stroke-width="0.7" fill="none"/>
<path d="M484.54,113.18h3.4M486.24,113.18v2.6M484.54,115.78h3.4" stroke="#333" stroke-width="0.7" fill="none"/>
<path d="M484.54,127.96h3.4M486.24,127.96v2.6M484.54,130.56h3.4" stroke="#333" stroke-width="0.7" fill="none"/>
<path d="M484.54,150.23h3.4M486.24,150.23v2.6M484.54,152.83h3.4" stroke="#333" stroke-width="0.7" fill="none"/>
<path d="M484.54,194.21h3.4M486.24,194.21v2.6M484.54,196.81h3.4" stroke="#333" stroke-width="0.7" fill="none"/>
<rect x="514.86" y="30.89" width="5.5" height="29.2" fill="#c0c0c0" />
<rect x="514.86" y="60.09" width="5.5" height="3.28" fill="#e6f08e" />
<rect x="514.86" y="63.38" width="5.5" height="77.75" fill="#f0909a" />
<rect x="514.86" y="141.12" width="5.5" height="36.87" fill="#5298e8" />
<rect x="514.86" y="177.99" width="5.5" height="13.87" fill="#9098f8" />
<rect x="514.86" y="191.86" width="5.5" height="3.83" fill="#e8b890" />
<rect x="514.86" y="195.69" width="5.5" height="23.91" fill="#50c4ae" />
<path d="M515.91,28.89h3.4M517.61,28.89v4M515.91,32.89h3.4" stroke="#333" stroke-width="0.7" fill="none"/>
<path d="M515.91,58.8h3.4M517.61,58.8v2.6M515.91,61.39h3.4" stroke="#333" stroke-width="0.7" fill="none"/>
<path d="M515.91,62.08h3.4M517.61,62.08v2.6M515.91,64.68h3.4" stroke="#333" stroke-width="0.7" fill="none"/>
<path d="M515.91,139.82h3.4M517.61,139.82v2.6M515.91,142.43h3.4" stroke="#333" stroke-width="0.7" fill="none"/>
<path d="M515.91,176.69h3.4M517.61,176.69v2.6M515.91,179.29h3.4" stroke="#333" stroke-width="0.7" fill="none"/>
<path d="M515.91,190.56h3.4M517.61,190.56v2.6M515.91,193.16h3.4" stroke="#333" stroke-width="0.7" fill="none"/>
<path d="M515.91,194.39h3.4M517.61,194.39v2.6M515.91,196.99h3.4" stroke="#333" stroke-width="0.7" fill="none"/>
<rect x="521.56" y="42.39" width="5.5" height="26.64" fill="#c0c0c0" />
<rect x="521.56" y="69.04" width="5.5" height="9.12" fill="#e6f08e" />
<rect x="521.56" y="78.16" width="5.5" height="18.98" fill="#f0909a" />
<rect x="521.56" y="97.14" width="5.5" height="76.47" fill="#5298e8" />
<rect x="521.56" y="173.61" width="5.5" height="11.5" fill="#9098f8" />
<rect x="521.56" y="185.11" width="5.5" height="11.5" fill="#e8b890" />
<rect x="521.56" y="196.6" width="5.5" height="23" fill="#50c4ae" />
<path d="M522.61,40.39h3.4M524.31,40.39v4M522.61,44.39h3.4" stroke="#333" stroke-width="0.7" fill="none"/>
<path d="M522.61,67.74h3.4M524.31,67.74v2.6M522.61,70.34h3.4" stroke="#333" stroke-width="0.7" fill="none"/>
<path d="M522.61,76.86h3.4M524.31,76.86v2.6M522.61,79.46h3.4" stroke="#333" stroke-width="0.7" fill="none"/>
<path d="M522.61,95.84h3.4M524.31,95.84v2.6M522.61,98.44h3.4" stroke="#333" stroke-width="0.7" fill="none"/>
<path d="M522.61,172.31h3.4M524.31,172.31v2.6M522.61,174.91h3.4" stroke="#333" stroke-width="0.7" fill="none"/>
<path d="M522.61,183.81h3.4M524.31,183.81v2.6M522.61,186.41h3.4" stroke="#333" stroke-width="0.7" fill="none"/>
<path d="M522.61,195.3h3.4M524.31,195.3v2.6M522.61,197.91h3.4" stroke="#333" stroke-width="0.7" fill="none"/>
<rect x="528.26" y="47.14" width="5.5" height="63.51" fill="#c0c0c0" />
<rect x="528.26" y="110.65" width="5.5" height="11.13" fill="#e6f08e" />
<rect x="528.26" y="121.78" width="5.5" height="15.15" fill="#f0909a" />
<rect x="528.26" y="136.93" width="5.5" height="31.02" fill="#5298e8" />
<rect x="528.26" y="167.95" width="5.5" height="33.95" fill="#9098f8" />
<rect x="528.26" y="201.9" width="5.5" height="17.7" fill="#50c4ae" />
<path d="M529.31,45.14h3.4M531.01,45.14v4M529.31,49.14h3.4" stroke="#333" stroke-width="0.7" fill="none"/>
<path d="M529.31,109.35h3.4M531.01,109.35v2.6M529.31,111.95h3.4" stroke="#333" stroke-width="0.7" fill="none"/>
<path d="M529.31,120.48h3.4M531.01,120.48v2.6M529.31,123.08h3.4" stroke="#333" stroke-width="0.7" fill="none"/>
<path d="M529.31,135.63h3.4M531.01,135.63v2.6M529.31,138.23h3.4" stroke="#333" stroke-width="0.7" fill="none"/>
<path d="M529.31,166.65h3.4M531.01,166.65v2.6M529.31,169.25h3.4" stroke="#333" stroke-width="0.7" fill="none"/>
<path d="M529.31,200.6h3.4M531.01,200.6v2.6M529.31,203.2h3.4" stroke="#333" stroke-width="0.7" fill="none"/>
<rect x="559.63" y="36.55" width="5.5" height="30.66" fill="#c0c0c0" />
<rect x="559.63" y="67.21" width="5.5" height="4.38" fill="#e6f08e" />
<rect x="559.63" y="71.59" width="5.5" height="62.23" fill="#f0909a" />
<rect x="559.63" y="133.82" width="5.5" height="45.62" fill="#5298e8" />
<rect x="559.63" y="179.45" width="5.5" height="11.86" fill="#9098f8" />
<rect x="559.63" y="191.31" width="5.5" height="9.49" fill="#e8b890" />
<rect x="559.63" y="200.8" width="5.5" height="18.8" fill="#50c4ae" />
<path d="M560.68,34.55h3.4M562.38,34.55v4M560.68,38.55h3.4" stroke="#333" stroke-width="0.7" fill="none"/>
<path d="M560.68,65.91h3.4M562.38,65.91v2.6M560.68,68.51h3.4" stroke="#333" stroke-width="0.7" fill="none"/>
<path d="M560.68,70.29h3.4M562.38,70.29v2.6M560.68,72.89h3.4" stroke="#333" stroke-width="0.7" fill="none"/>
<path d="M560.68,132.52h3.4M562.38,132.52v2.6M560.68,135.12h3.4" stroke="#333" stroke-width="0.7" fill="none"/>
<path d="M560.68,178.15h3.4M562.38,178.15v2.6M560.68,180.75h3.4" stroke="#333" stroke-width="0.7" fill="none"/>
<path d="M560.68,190.01h3.4M562.38,190.01v2.6M560.68,192.61h3.4" stroke="#333" stroke-width="0.7" fill="none"/>
<path d="M560.68,199.5h3.4M562.38,199.5v2.6M560.68,202.1h3.4" stroke="#333" stroke-width="0.7" fill="none"/>
<rect x="566.33" y="50.97" width="5.5" height="34.49" fill="#c0c0c0" />
<rect x="566.33" y="85.46" width="5.5" height="9.49" fill="#e6f08e" />
<rect x="566.33" y="94.95" width="5.5" height="16.97" fill="#f0909a" />
<rect x="566.33" y="111.92" width="5.5" height="60.77" fill="#5298e8" />
<rect x="566.33" y="172.7" width="5.5" height="10.95" fill="#9098f8" />
<rect x="566.33" y="183.65" width="5.5" height="20.26" fill="#e8b890" />
<rect x="566.33" y="203.91" width="5.5" height="15.69" fill="#50c4ae" />
<path d="M567.38,48.97h3.4M569.08,48.97v4M567.38,52.97h3.4" stroke="#333" stroke-width="0.7" fill="none"/>
<path d="M567.38,84.16h3.4M569.08,84.16v2.6M567.38,86.76h3.4" stroke="#333" stroke-width="0.7" fill="none"/>
<path d="M567.38,93.65h3.4M569.08,93.65v2.6M567.38,96.25h3.4" stroke="#333" stroke-width="0.7" fill="none"/>
<path d="M567.38,110.62h3.4M569.08,110.62v2.6M567.38,113.22h3.4" stroke="#333" stroke-width="0.7" fill="none"/>
<path d="M567.38,171.4h3.4M569.08,171.4v2.6M567.38,174h3.4" stroke="#333" stroke-width="0.7" fill="none"/>
<path d="M567.38,182.35h3.4M569.08,182.35v2.6M567.38,184.95h3.4" stroke="#333" stroke-width="0.7" fill="none"/>
<path d="M567.38,202.6h3.4M569.08,202.6v2.6M567.38,205.21h3.4" stroke="#333" stroke-width="0.7" fill="none"/>
<rect x="573.03" y="39.11" width="5.5" height="66.43" fill="#c0c0c0" />
<rect x="573.03" y="105.54" width="5.5" height="12.05" fill="#e6f08e" />
<rect x="573.03" y="117.58" width="5.5" height="14.05" fill="#f0909a" />
<rect x="573.03" y="131.63" width="5.5" height="44.9" fill="#5298e8" />
<rect x="573.03" y="176.53" width="5.5" height="28.65" fill="#9098f8" />
<rect x="573.03" y="205.18" width="5.5" height="14.42" fill="#50c4ae" />
<path d="M574.08,37.11h3.4M575.78,37.11v4M574.08,41.11h3.4" stroke="#333" stroke-width="0.7" fill="none"/>
<path d="M574.08,104.24h3.4M575.78,104.24v2.6M574.08,106.84h3.4" stroke="#333" stroke-width="0.7" fill="none"/>
<path d="M574.08,116.28h3.4M575.78,116.28v2.6M574.08,118.88h3.4" stroke="#333" stroke-width="0.7" fill="none"/>
<path d="M574.08,130.33h3.4M575.78,130.33v2.6M574.08,132.94h3.4" stroke="#333" stroke-width="0.7" fill="none"/>
<path d="M574.08,175.23h3.4M575.78,175.23v2.6M574.08,177.83h3.4" stroke="#333" stroke-width="0.7" fill="none"/>
<path d="M574.08,203.88h3.4M575.78,203.88v2.6M574.08,206.48h3.4" stroke="#333" stroke-width="0.7" fill="none"/>
<rect x="604.4" y="32.72" width="5.5" height="30.66" fill="#c0c0c0" />
<rect x="604.4" y="63.38" width="5.5" height="4.75" fill="#e6f08e" />
<rect x="604.4" y="68.12" width="5.5" height="51.65" fill="#f0909a" />
<rect x="604.4" y="119.77" width="5.5" height="53.47" fill="#5298e8" />
<rect x="604.4" y="173.25" width="5.5" height="14.23" fill="#9098f8" />
<rect x="604.4" y="187.48" width="5.5" height="14.42" fill="#e8b890" />
<rect x="604.4" y="201.9" width="5.5" height="17.7" fill="#50c4ae" />
<path d="M605.45,30.72h3.4M607.15,30.72v4M605.45,34.72h3.4" stroke="#333" stroke-width="0.7" fill="none"/>
<path d="M605.45,62.08h3.4M607.15,62.08v2.6M605.45,64.68h3.4" stroke="#333" stroke-width="0.7" fill="none"/>
<path d="M605.45,66.83h3.4M607.15,66.83v2.6M605.45,69.42h3.4" stroke="#333" stroke-width="0.7" fill="none"/>
<path d="M605.45,118.47h3.4M607.15,118.47v2.6M605.45,121.07h3.4" stroke="#333" stroke-width="0.7" fill="none"/>
<path d="M605.45,171.94h3.4M607.15,171.94v2.6M605.45,174.55h3.4" stroke="#333" stroke-width="0.7" fill="none"/>
<path d="M605.45,186.18h3.4M607.15,186.18v2.6M605.45,188.78h3.4" stroke="#333" stroke-width="0.7" fill="none"/>
<path d="M605.45,200.6h3.4M607.15,200.6v2.6M605.45,203.2h3.4" stroke="#333" stroke-width="0.7" fill="none"/>
<rect x="611.1" y="48.96" width="5.5" height="39.78" fill="#c0c0c0" />
<rect x="611.1" y="88.75" width="5.5" height="6.57" fill="#e6f08e" />
<rect x="611.1" y="95.32" width="5.5" height="16.42" fill="#f0909a" />
<rect x="611.1" y="111.74" width="5.5" height="51.28" fill="#5298e8" />
<rect x="611.1" y="163.03" width="5.5" height="12.59" fill="#9098f8" />
<rect x="611.1" y="175.62" width="5.5" height="29.56" fill="#e8b890" />
<rect x="611.1" y="205.18" width="5.5" height="14.42" fill="#50c4ae" />
<path d="M612.15,46.96h3.4M613.85,46.96v4M612.15,50.96h3.4" stroke="#333" stroke-width="0.7" fill="none"/>
<path d="M612.15,87.45h3.4M613.85,87.45v2.6M612.15,90.05h3.4" stroke="#333" stroke-width="0.7" fill="none"/>
<path d="M612.15,94.02h3.4M613.85,94.02v2.6M612.15,96.62h3.4" stroke="#333" stroke-width="0.7" fill="none"/>
<path d="M612.15,110.44h3.4M613.85,110.44v2.6M612.15,113.04h3.4" stroke="#333" stroke-width="0.7" fill="none"/>
<path d="M612.15,161.72h3.4M613.85,161.72v2.6M612.15,164.33h3.4" stroke="#333" stroke-width="0.7" fill="none"/>
<path d="M612.15,174.32h3.4M613.85,174.32v2.6M612.15,176.92h3.4" stroke="#333" stroke-width="0.7" fill="none"/>
<path d="M612.15,203.88h3.4M613.85,203.88v2.6M612.15,206.48h3.4" stroke="#333" stroke-width="0.7" fill="none"/>
<rect x="617.8" y="37.65" width="5.5" height="69.72" fill="#c0c0c0" />
<rect x="617.8" y="107.36" width="5.5" height="12.05" fill="#e6f08e" />
<rect x="617.8" y="119.41" width="5.5" height="16.06" fill="#f0909a" />
<rect x="617.8" y="135.47" width="5.5" height="41.98" fill="#5298e8" />
<rect x="617.8" y="177.44" width="5.5" height="27.74" fill="#9098f8" />
<rect x="617.8" y="205.18" width="5.5" height="1.28" fill="#e8b890" />
<rect x="617.8" y="206.46" width="5.5" height="13.14" fill="#50c4ae" />
<path d="M618.85,35.65h3.4M620.55,35.65v4M618.85,39.65h3.4" stroke="#333" stroke-width="0.7" fill="none"/>
<path d="M618.85,106.06h3.4M620.55,106.06v2.6M618.85,108.66h3.4" stroke="#333" stroke-width="0.7" fill="none"/>
<path d="M618.85,118.11h3.4M620.55,118.11v2.6M618.85,120.71h3.4" stroke="#333" stroke-width="0.7" fill="none"/>
<path d="M618.85,134.17h3.4M620.55,134.17v2.6M618.85,136.77h3.4" stroke="#333" stroke-width="0.7" fill="none"/>
<path d="M618.85,176.14h3.4M620.55,176.14v2.6M618.85,178.74h3.4" stroke="#333" stroke-width="0.7" fill="none"/>
<path d="M618.85,203.88h3.4M620.55,203.88v2.6M618.85,206.48h3.4" stroke="#333" stroke-width="0.7" fill="none"/>
<path d="M618.85,205.16h3.4M620.55,205.16v2.6M618.85,207.76h3.4" stroke="#333" stroke-width="0.7" fill="none"/>
<rect x="383.5" y="5.3" width="17" height="7.4" fill="#c0c0c0" />
<text x="404" y="12.3" font-size="8.3" fill="#1e1e1e">H<tspan font-size="5.5">2</tspan></text>
<rect x="383.5" y="15.2" width="17" height="7.4" fill="#9098f8" />
<text x="404" y="22.2" font-size="8.3" fill="#1e1e1e">HCOOH</text>
<rect x="441" y="5.3" width="17" height="7.4" fill="#e6f08e" />
<text x="461.5" y="12.3" font-size="8.3" fill="#1e1e1e">C3</text>
<rect x="441" y="15.2" width="17" height="7.4" fill="#e8b890" />
<text x="461.5" y="22.2" font-size="8.3" fill="#1e1e1e">CH<tspan font-size="5.5">4</tspan></text>
<rect x="483.4" y="5.3" width="17" height="7.4" fill="#f0909a" />
<text x="503.9" y="12.3" font-size="8.3" fill="#1e1e1e">ethanol</text>
<rect x="483.4" y="15.2" width="17" height="7.4" fill="#50c4ae" />
<text x="503.9" y="22.2" font-size="8.3" fill="#1e1e1e">CO</text>
<rect x="539.4" y="5.3" width="17" height="7.4" fill="#5298e8" />
<text x="559.9" y="12.3" font-size="8.3" fill="#1e1e1e">ethylene</text>
<g class="serif" font-size="10.5" fill="#222"><text x="383" y="31.4" text-anchor="middle">I</text><text x="390.6" y="31.4" text-anchor="middle">II</text><text x="399.3" y="44.0" text-anchor="middle">III</text></g>
<rect x="42.2" y="269.7" width="268.2" height="215.5" fill="none" stroke="#3a3a3a" stroke-width="1.2"/>
<line x1="37.8" y1="485.2" x2="42.2" y2="485.2" stroke="#3a3a3a" stroke-width="1" />
<text x="35.3" y="488.6" font-size="10" text-anchor="end" fill="#1e1e1e" >0</text>
<line x1="37.8" y1="439.8" x2="42.2" y2="439.8" stroke="#3a3a3a" stroke-width="1" />
<text x="35.3" y="443.2" font-size="10" text-anchor="end" fill="#1e1e1e" >20</text>
<line x1="37.8" y1="394.4" x2="42.2" y2="394.4" stroke="#3a3a3a" stroke-width="1" />
<text x="35.3" y="397.8" font-size="10" text-anchor="end" fill="#1e1e1e" >40</text>
<line x1="37.8" y1="349" x2="42.2" y2="349" stroke="#3a3a3a" stroke-width="1" />
<text x="35.3" y="352.4" font-size="10" text-anchor="end" fill="#1e1e1e" >60</text>
<line x1="37.8" y1="303.6" x2="42.2" y2="303.6" stroke="#3a3a3a" stroke-width="1" />
<text x="35.3" y="307" font-size="10" text-anchor="end" fill="#1e1e1e" >80</text>
<line x1="40.2" y1="462.5" x2="42.2" y2="462.5" stroke="#3a3a3a" stroke-width="1" />
<line x1="40.2" y1="417.1" x2="42.2" y2="417.1" stroke="#3a3a3a" stroke-width="1" />
<line x1="40.2" y1="371.7" x2="42.2" y2="371.7" stroke="#3a3a3a" stroke-width="1" />
<line x1="40.2" y1="326.3" x2="42.2" y2="326.3" stroke="#3a3a3a" stroke-width="1" />
<line x1="40.2" y1="280.9" x2="42.2" y2="280.9" stroke="#3a3a3a" stroke-width="1" />
<line x1="61.3" y1="485.2" x2="61.3" y2="489.2" stroke="#3a3a3a" stroke-width="1" />
<text x="61.3" y="500.6" font-size="10" text-anchor="middle" fill="#1e1e1e" >-0.7</text>
<line x1="80.45" y1="485.2" x2="80.45" y2="487.2" stroke="#3a3a3a" stroke-width="1" />
<line x1="99.6" y1="485.2" x2="99.6" y2="489.2" stroke="#3a3a3a" stroke-width="1" />
<text x="99.6" y="500.6" font-size="10" text-anchor="middle" fill="#1e1e1e" >-0.8</text>
<line x1="118.75" y1="485.2" x2="118.75" y2="487.2" stroke="#3a3a3a" stroke-width="1" />
<line x1="137.9" y1="485.2" x2="137.9" y2="489.2" stroke="#3a3a3a" stroke-width="1" />
<text x="137.9" y="500.6" font-size="10" text-anchor="middle" fill="#1e1e1e" >-0.9</text>
<line x1="157.05" y1="485.2" x2="157.05" y2="487.2" stroke="#3a3a3a" stroke-width="1" />
<line x1="176.2" y1="485.2" x2="176.2" y2="489.2" stroke="#3a3a3a" stroke-width="1" />
<text x="176.2" y="500.6" font-size="10" text-anchor="middle" fill="#1e1e1e" >-1</text>
<line x1="195.35" y1="485.2" x2="195.35" y2="487.2" stroke="#3a3a3a" stroke-width="1" />
<line x1="214.5" y1="485.2" x2="214.5" y2="489.2" stroke="#3a3a3a" stroke-width="1" />
<text x="214.5" y="500.6" font-size="10" text-anchor="middle" fill="#1e1e1e" >-1.1</text>
<line x1="233.65" y1="485.2" x2="233.65" y2="487.2" stroke="#3a3a3a" stroke-width="1" />
<line x1="252.8" y1="485.2" x2="252.8" y2="489.2" stroke="#3a3a3a" stroke-width="1" />
<text x="252.8" y="500.6" font-size="10" text-anchor="middle" fill="#1e1e1e" >-1.2</text>
<line x1="271.95" y1="485.2" x2="271.95" y2="487.2" stroke="#3a3a3a" stroke-width="1" />
<line x1="291.1" y1="485.2" x2="291.1" y2="489.2" stroke="#3a3a3a" stroke-width="1" />
<text x="291.1" y="500.6" font-size="10" text-anchor="middle" fill="#1e1e1e" >-1.3</text>
<line x1="42.15" y1="485.2" x2="42.15" y2="487.2" stroke="#3a3a3a" stroke-width="1" />
<text x="176.3" y="519.7" font-size="13.1" text-anchor="middle" fill="#222" >Potential (V vs RHE)</text>
<text transform="translate(13.8,386) rotate(-90)" font-size="13" text-anchor="middle" fill="#222">Faradaic efficiency (%)</text>
<rect x="51.8" y="354.45" width="9.5" height="110.55" fill="#f06060" />
<rect x="51.8" y="465" width="9.5" height="20.2" fill="#5474f6" />
<path d="M54.55,350.95h4M56.55,350.95v7M54.55,357.95h4" stroke="#333" stroke-width="0.7" fill="none"/>
<path d="M54.55,464h4M56.55,464v2M54.55,466h4" stroke="#333" stroke-width="0.7" fill="none"/>
<rect x="61.3" y="364.44" width="9.5" height="24.74" fill="#f06060" />
<rect x="61.3" y="389.18" width="9.5" height="96.02" fill="#5474f6" />
<path d="M64.05,362.74h4M66.05,362.74v3.4M64.05,366.14h4" stroke="#333" stroke-width="0.7" fill="none"/>
<path d="M64.05,386.58h4M66.05,386.58v5.2M64.05,391.78h4" stroke="#333" stroke-width="0.7" fill="none"/>
<line x1="61.3" y1="354.45" x2="61.3" y2="485.2" stroke="#ffffff" stroke-width="0.5" stroke-dasharray="1,1" opacity="0.7"/>
<rect x="90.1" y="342.64" width="9.5" height="118.72" fill="#f06060" />
<rect x="90.1" y="461.37" width="9.5" height="23.83" fill="#5474f6" />
<path d="M92.85,339.74h4M94.85,339.74v5.8M92.85,345.54h4" stroke="#333" stroke-width="0.7" fill="none"/>
<path d="M92.85,460.37h4M94.85,460.37v2M92.85,462.37h4" stroke="#333" stroke-width="0.7" fill="none"/>
<rect x="99.6" y="345.37" width="9.5" height="35.41" fill="#f06060" />
<rect x="99.6" y="380.78" width="9.5" height="104.42" fill="#5474f6" />
<path d="M102.35,344.27h4M104.35,344.27v2.2M102.35,346.47h4" stroke="#333" stroke-width="0.7" fill="none"/>
<path d="M102.35,377.88h4M104.35,377.88v5.8M102.35,383.68h4" stroke="#333" stroke-width="0.7" fill="none"/>
<line x1="99.6" y1="342.64" x2="99.6" y2="485.2" stroke="#ffffff" stroke-width="0.5" stroke-dasharray="1,1" opacity="0.7"/>
<rect x="128.4" y="333.34" width="9.5" height="123.26" fill="#f06060" />
<rect x="128.4" y="456.6" width="9.5" height="28.6" fill="#5474f6" />
<path d="M131.15,332.34h4M133.15,332.34v2M131.15,334.34h4" stroke="#333" stroke-width="0.7" fill="none"/>
<path d="M131.15,455.8h4M133.15,455.8v1.6M131.15,457.4h4" stroke="#333" stroke-width="0.7" fill="none"/>
<rect x="137.9" y="328.57" width="9.5" height="44.04" fill="#f06060" />
<rect x="137.9" y="372.61" width="9.5" height="112.59" fill="#5474f6" />
<path d="M140.65,326.47h4M142.65,326.47v4.2M140.65,330.67h4" stroke="#333" stroke-width="0.7" fill="none"/>
<path d="M140.65,371.31h4M142.65,371.31v2.6M140.65,373.91h4" stroke="#333" stroke-width="0.7" fill="none"/>
<line x1="137.9" y1="328.57" x2="137.9" y2="485.2" stroke="#ffffff" stroke-width="0.5" stroke-dasharray="1,1" opacity="0.7"/>
<rect x="166.7" y="326.3" width="9.5" height="126.89" fill="#f06060" />
<rect x="166.7" y="453.19" width="9.5" height="32.01" fill="#5474f6" />
<path d="M169.45,324h4M171.45,324v4.6M169.45,328.6h4" stroke="#333" stroke-width="0.7" fill="none"/>
<path d="M169.45,452.59h4M171.45,452.59v1.2M169.45,453.79h4" stroke="#333" stroke-width="0.7" fill="none"/>
<rect x="176.2" y="314.5" width="9.5" height="51.3" fill="#f06060" />
<rect x="176.2" y="365.8" width="9.5" height="119.4" fill="#5474f6" />
<path d="M178.95,313.2h4M180.95,313.2v2.6M178.95,315.8h4" stroke="#333" stroke-width="0.7" fill="none"/>
<path d="M178.95,363.5h4M180.95,363.5v4.6M178.95,368.1h4" stroke="#333" stroke-width="0.7" fill="none"/>
<line x1="176.2" y1="314.5" x2="176.2" y2="485.2" stroke="#ffffff" stroke-width="0.5" stroke-dasharray="1,1" opacity="0.7"/>
<rect x="205" y="334.93" width="9.5" height="118.27" fill="#f06060" />
<rect x="205" y="453.19" width="9.5" height="32.01" fill="#5474f6" />
<path d="M207.75,332.23h4M209.75,332.23v5.4M207.75,337.63h4" stroke="#333" stroke-width="0.7" fill="none"/>
<path d="M207.75,452.59h4M209.75,452.59v1.2M207.75,453.79h4" stroke="#333" stroke-width="0.7" fill="none"/>
<rect x="214.5" y="309.96" width="9.5" height="53.12" fill="#f06060" />
<rect x="214.5" y="363.07" width="9.5" height="122.13" fill="#5474f6" />
<path d="M217.25,309.36h4M219.25,309.36v1.2M217.25,310.56h4" stroke="#333" stroke-width="0.7" fill="none"/>
<path d="M217.25,361.27h4M219.25,361.27v3.6M217.25,364.87h4" stroke="#333" stroke-width="0.7" fill="none"/>
<line x1="214.5" y1="309.96" x2="214.5" y2="485.2" stroke="#ffffff" stroke-width="0.5" stroke-dasharray="1,1" opacity="0.7"/>
<rect x="243.3" y="345.6" width="9.5" height="102.38" fill="#f06060" />
<rect x="243.3" y="447.97" width="9.5" height="37.23" fill="#5474f6" />
<path d="M246.05,343.5h4M248.05,343.5v4.2M246.05,347.7h4" stroke="#333" stroke-width="0.7" fill="none"/>
<path d="M246.05,447.17h4M248.05,447.17v1.6M246.05,448.77h4" stroke="#333" stroke-width="0.7" fill="none"/>
<rect x="252.8" y="311.09" width="9.5" height="51.53" fill="#f06060" />
<rect x="252.8" y="362.62" width="9.5" height="122.58" fill="#5474f6" />
<path d="M255.55,309.09h4M257.55,309.09v4M255.55,313.09h4" stroke="#333" stroke-width="0.7" fill="none"/>
<path d="M255.55,360.82h4M257.55,360.82v3.6M255.55,364.42h4" stroke="#333" stroke-width="0.7" fill="none"/>
<line x1="252.8" y1="311.09" x2="252.8" y2="485.2" stroke="#ffffff" stroke-width="0.5" stroke-dasharray="1,1" opacity="0.7"/>
<rect x="281.6" y="366.71" width="9.5" height="76.95" fill="#f06060" />
<rect x="281.6" y="443.66" width="9.5" height="41.54" fill="#5474f6" />
<path d="M284.35,364.71h4M286.35,364.71v4M284.35,368.71h4" stroke="#333" stroke-width="0.7" fill="none"/>
<path d="M284.35,442.46h4M286.35,442.46v2.4M284.35,444.86h4" stroke="#333" stroke-width="0.7" fill="none"/>
<rect x="291.1" y="316.77" width="9.5" height="49.94" fill="#f06060" />
<rect x="291.1" y="366.71" width="9.5" height="118.49" fill="#5474f6" />
<path d="M293.85,316.17h4M295.85,316.17v1.2M293.85,317.37h4" stroke="#333" stroke-width="0.7" fill="none"/>
<path d="M293.85,361.71h4M295.85,361.71v10M293.85,371.71h4" stroke="#333" stroke-width="0.7" fill="none"/>
<line x1="291.1" y1="316.77" x2="291.1" y2="485.2" stroke="#ffffff" stroke-width="0.5" stroke-dasharray="1,1" opacity="0.7"/>
<rect x="146.4" y="279.3" width="19.8" height="21.1" fill="#f06060" />
<line x1="146.4" y1="289.9" x2="166.2" y2="289.9" stroke="#fff" stroke-width="1" />
<text x="170.9" y="293.2" font-size="9" text-anchor="start" fill="#1e1e1e" >ethanol</text>
<rect x="216" y="279.3" width="19.8" height="21.1" fill="#5474f6" />
<line x1="216" y1="289.9" x2="235.8" y2="289.9" stroke="#fff" stroke-width="1" />
<text x="240.5" y="293.2" font-size="9" text-anchor="start" fill="#1e1e1e" >ethylene</text>
<g class="serif" font-size="10.5" fill="#222"><text x="71.2" y="290.8" text-anchor="middle">I</text><text x="70.7" y="306.2" text-anchor="middle">II</text><text x="56.5" y="345.8" text-anchor="middle">I</text><text x="66.7" y="357.3" text-anchor="middle">II</text></g>
<text x="76.4" y="290.5" font-size="9" fill="#1e1e1e">Ag<tspan font-size="6.5" dy="2">1</tspan><tspan dy="-2">Cu NW</tspan></text>
<text x="76.8" y="305.8" font-size="9" fill="#1e1e1e">AgCu NW</text>
<rect x="366.6" y="269" width="269.4" height="215.89999999999998" fill="none" stroke="#3a3a3a" stroke-width="1.2"/>
<line x1="363.1" y1="484.4" x2="366.6" y2="484.4" stroke="#3a3a3a" stroke-width="1" />
<text x="359.5" y="487.9" font-size="10.2" text-anchor="end" fill="#1e1e1e" >0</text>
<line x1="364.6" y1="468.85" x2="366.6" y2="468.85" stroke="#3a3a3a" stroke-width="1" />
<line x1="363.1" y1="453.3" x2="366.6" y2="453.3" stroke="#3a3a3a" stroke-width="1" />
<text x="359.5" y="456.8" font-size="10.2" text-anchor="end" fill="#1e1e1e" >20</text>
<line x1="364.6" y1="437.75" x2="366.6" y2="437.75" stroke="#3a3a3a" stroke-width="1" />
<line x1="363.1" y1="422.2" x2="366.6" y2="422.2" stroke="#3a3a3a" stroke-width="1" />
<text x="359.5" y="425.7" font-size="10.2" text-anchor="end" fill="#1e1e1e" >40</text>
<line x1="364.6" y1="406.65" x2="366.6" y2="406.65" stroke="#3a3a3a" stroke-width="1" />
<line x1="363.1" y1="391.1" x2="366.6" y2="391.1" stroke="#3a3a3a" stroke-width="1" />
<text x="359.5" y="394.6" font-size="10.2" text-anchor="end" fill="#1e1e1e" >60</text>
<line x1="364.6" y1="375.55" x2="366.6" y2="375.55" stroke="#3a3a3a" stroke-width="1" />
<line x1="363.1" y1="360" x2="366.6" y2="360" stroke="#3a3a3a" stroke-width="1" />
<text x="359.5" y="363.5" font-size="10.2" text-anchor="end" fill="#1e1e1e" >80</text>
<line x1="364.6" y1="344.45" x2="366.6" y2="344.45" stroke="#3a3a3a" stroke-width="1" />
<line x1="363.1" y1="328.9" x2="366.6" y2="328.9" stroke="#3a3a3a" stroke-width="1" />
<text x="359.5" y="332.4" font-size="10.2" text-anchor="end" fill="#1e1e1e" >100</text>
<line x1="364.6" y1="313.35" x2="366.6" y2="313.35" stroke="#3a3a3a" stroke-width="1" />
<line x1="363.1" y1="297.8" x2="366.6" y2="297.8" stroke="#3a3a3a" stroke-width="1" />
<line x1="364.6" y1="282.25" x2="366.6" y2="282.25" stroke="#3a3a3a" stroke-width="1" />
<line x1="636" y1="268.95" x2="638" y2="268.95" stroke="#3a3a3a" stroke-width="1" />
<line x1="636" y1="286.22" x2="639.5" y2="286.22" stroke="#3a3a3a" stroke-width="1" />
<text x="642.6" y="290.12" font-size="11" text-anchor="start" fill="#1e1e1e" >-400</text>
<line x1="636" y1="303.49" x2="638" y2="303.49" stroke="#3a3a3a" stroke-width="1" />
<line x1="636" y1="320.76" x2="639.5" y2="320.76" stroke="#3a3a3a" stroke-width="1" />
<text x="642.6" y="324.66" font-size="11" text-anchor="start" fill="#1e1e1e" >-200</text>
<line x1="636" y1="338.03" x2="638" y2="338.03" stroke="#3a3a3a" stroke-width="1" />
<line x1="636" y1="355.3" x2="639.5" y2="355.3" stroke="#3a3a3a" stroke-width="1" />
<text x="642.6" y="359.2" font-size="11" text-anchor="start" fill="#1e1e1e" >0</text>
<line x1="636" y1="372.57" x2="638" y2="372.57" stroke="#3a3a3a" stroke-width="1" />
<line x1="636" y1="389.84" x2="639.5" y2="389.84" stroke="#3a3a3a" stroke-width="1" />
<text x="642.6" y="393.74" font-size="11" text-anchor="start" fill="#1e1e1e" >200</text>
<line x1="636" y1="407.11" x2="638" y2="407.11" stroke="#3a3a3a" stroke-width="1" />
<line x1="636" y1="424.38" x2="639.5" y2="424.38" stroke="#3a3a3a" stroke-width="1" />
<text x="642.6" y="428.28" font-size="11" text-anchor="start" fill="#1e1e1e" >400</text>
<line x1="636" y1="441.65" x2="638" y2="441.65" stroke="#3a3a3a" stroke-width="1" />
<line x1="636" y1="458.92" x2="639.5" y2="458.92" stroke="#3a3a3a" stroke-width="1" />
<text x="642.6" y="462.82" font-size="11" text-anchor="start" fill="#1e1e1e" >600</text>
<line x1="636" y1="476.19" x2="638" y2="476.19" stroke="#3a3a3a" stroke-width="1" />
<line x1="376.29" y1="484.9" x2="376.29" y2="486.9" stroke="#3a3a3a" stroke-width="1" />
<line x1="385.54" y1="484.9" x2="385.54" y2="486.9" stroke="#3a3a3a" stroke-width="1" />
<line x1="394.8" y1="484.9" x2="394.8" y2="488.4" stroke="#3a3a3a" stroke-width="1" />
<text x="394.8" y="501.2" font-size="11" text-anchor="middle" fill="#1e1e1e" >1</text>
<line x1="404.06" y1="484.9" x2="404.06" y2="486.9" stroke="#3a3a3a" stroke-width="1" />
<line x1="413.31" y1="484.9" x2="413.31" y2="486.9" stroke="#3a3a3a" stroke-width="1" />
<line x1="422.57" y1="484.9" x2="422.57" y2="486.9" stroke="#3a3a3a" stroke-width="1" />
<line x1="431.83" y1="484.9" x2="431.83" y2="488.4" stroke="#3a3a3a" stroke-width="1" />
<text x="431.83" y="501.2" font-size="11" text-anchor="middle" fill="#1e1e1e" >2</text>
<line x1="441.09" y1="484.9" x2="441.09" y2="486.9" stroke="#3a3a3a" stroke-width="1" />
<line x1="450.35" y1="484.9" x2="450.35" y2="486.9" stroke="#3a3a3a" stroke-width="1" />
<line x1="459.6" y1="484.9" x2="459.6" y2="486.9" stroke="#3a3a3a" stroke-width="1" />
<line x1="468.86" y1="484.9" x2="468.86" y2="488.4" stroke="#3a3a3a" stroke-width="1" />
<text x="468.86" y="501.2" font-size="11" text-anchor="middle" fill="#1e1e1e" >3</text>
<line x1="478.12" y1="484.9" x2="478.12" y2="486.9" stroke="#3a3a3a" stroke-width="1" />
<line x1="487.38" y1="484.9" x2="487.38" y2="486.9" stroke="#3a3a3a" stroke-width="1" />
<line x1="496.63" y1="484.9" x2="496.63" y2="486.9" stroke="#3a3a3a" stroke-width="1" />
<line x1="505.89" y1="484.9" x2="505.89" y2="488.4" stroke="#3a3a3a" stroke-width="1" />
<text x="505.89" y="501.2" font-size="11" text-anchor="middle" fill="#1e1e1e" >4</text>
<line x1="515.15" y1="484.9" x2="515.15" y2="486.9" stroke="#3a3a3a" stroke-width="1" />
<line x1="524.4" y1="484.9" x2="524.4" y2="486.9" stroke="#3a3a3a" stroke-width="1" />
<line x1="533.66" y1="484.9" x2="533.66" y2="486.9" stroke="#3a3a3a" stroke-width="1" />
<line x1="542.92" y1="484.9" x2="542.92" y2="488.4" stroke="#3a3a3a" stroke-width="1" />
<text x="542.92" y="501.2" font-size="11" text-anchor="middle" fill="#1e1e1e" >5</text>
<line x1="552.18" y1="484.9" x2="552.18" y2="486.9" stroke="#3a3a3a" stroke-width="1" />
<line x1="561.43" y1="484.9" x2="561.43" y2="486.9" stroke="#3a3a3a" stroke-width="1" />
<line x1="570.69" y1="484.9" x2="570.69" y2="486.9" stroke="#3a3a3a" stroke-width="1" />
<line x1="579.95" y1="484.9" x2="579.95" y2="488.4" stroke="#3a3a3a" stroke-width="1" />
<text x="579.95" y="501.2" font-size="11" text-anchor="middle" fill="#1e1e1e" >6</text>
<line x1="589.21" y1="484.9" x2="589.21" y2="486.9" stroke="#3a3a3a" stroke-width="1" />
<line x1="598.47" y1="484.9" x2="598.47" y2="486.9" stroke="#3a3a3a" stroke-width="1" />
<line x1="607.72" y1="484.9" x2="607.72" y2="486.9" stroke="#3a3a3a" stroke-width="1" />
<line x1="616.98" y1="484.9" x2="616.98" y2="488.4" stroke="#3a3a3a" stroke-width="1" />
<text x="616.98" y="501.2" font-size="11" text-anchor="middle" fill="#1e1e1e" >7</text>
<line x1="626.24" y1="484.9" x2="626.24" y2="486.9" stroke="#3a3a3a" stroke-width="1" />
<line x1="635.5" y1="484.9" x2="635.5" y2="486.9" stroke="#3a3a3a" stroke-width="1" />
<text x="501" y="519.2" font-size="13" text-anchor="middle" fill="#222" >Time (h)</text>
<text transform="translate(337.8,381.7) rotate(-90)" font-size="12.3" text-anchor="middle" fill="#222">Faradaic efficiency (%)</text>
<text transform="translate(679.8,377) rotate(-90)" font-size="13.4" text-anchor="middle" fill="#1e1e1e">Current density (mA cm<tspan font-size="9" dy="-4.8">-2</tspan><tspan dy="4.8">)</tspan></text>
<rect x="390.5" y="331.85" width="8.6" height="44.01" fill="#c0c0c0" />
<rect x="390.5" y="375.86" width="8.6" height="15.24" fill="#4a8cf0" />
<rect x="390.5" y="391.1" width="8.6" height="82.88" fill="#f0666e" />
<rect x="390.5" y="473.98" width="8.6" height="6.69" fill="#8c9cf8" />
<rect x="390.5" y="480.67" width="8.6" height="2.18" fill="#e8b48c" />
<rect x="390.5" y="482.84" width="8.6" height="1.56" fill="#48c0a8" />
<rect x="427.53" y="329.06" width="8.6" height="44.47" fill="#c0c0c0" />
<rect x="427.53" y="373.53" width="8.6" height="19.28" fill="#4a8cf0" />
<rect x="427.53" y="392.81" width="8.6" height="79.93" fill="#f0666e" />
<rect x="427.53" y="472.74" width="8.6" height="8.4" fill="#8c9cf8" />
<rect x="427.53" y="481.13" width="8.6" height="1.71" fill="#e8b48c" />
<rect x="427.53" y="482.84" width="8.6" height="1.56" fill="#48c0a8" />
<rect x="464.56" y="325.63" width="8.6" height="39.34" fill="#c0c0c0" />
<rect x="464.56" y="364.98" width="8.6" height="20.84" fill="#4a8cf0" />
<rect x="464.56" y="385.81" width="8.6" height="77.13" fill="#f0666e" />
<rect x="464.56" y="462.94" width="8.6" height="18.82" fill="#8c9cf8" />
<rect x="464.56" y="481.76" width="8.6" height="1.09" fill="#e8b48c" />
<rect x="464.56" y="482.84" width="8.6" height="1.56" fill="#48c0a8" />
<rect x="501.59" y="328.59" width="8.6" height="39.81" fill="#c0c0c0" />
<rect x="501.59" y="368.4" width="8.6" height="18.04" fill="#4a8cf0" />
<rect x="501.59" y="386.44" width="8.6" height="77.59" fill="#f0666e" />
<rect x="501.59" y="464.03" width="8.6" height="18.35" fill="#8c9cf8" />
<rect x="501.59" y="482.38" width="8.6" height="1.09" fill="#e8b48c" />
<rect x="501.59" y="483.47" width="8.6" height="0.93" fill="#48c0a8" />
<rect x="538.62" y="326.1" width="8.6" height="54.74" fill="#c0c0c0" />
<rect x="538.62" y="380.84" width="8.6" height="13.22" fill="#4a8cf0" />
<rect x="538.62" y="394.05" width="8.6" height="68.89" fill="#f0666e" />
<rect x="538.62" y="462.94" width="8.6" height="19.9" fill="#8c9cf8" />
<rect x="538.62" y="482.84" width="8.6" height="0.31" fill="#e8b48c" />
<rect x="538.62" y="483.16" width="8.6" height="1.24" fill="#48c0a8" />
<rect x="575.65" y="328.12" width="8.6" height="61.73" fill="#c0c0c0" />
<rect x="575.65" y="389.86" width="8.6" height="12.28" fill="#4a8cf0" />
<rect x="575.65" y="402.14" width="8.6" height="60.8" fill="#f0666e" />
<rect x="575.65" y="462.94" width="8.6" height="19.9" fill="#8c9cf8" />
<rect x="575.65" y="482.84" width="8.6" height="0.31" fill="#e8b48c" />
<rect x="575.65" y="483.16" width="8.6" height="1.24" fill="#48c0a8" />
<rect x="612.68" y="329.21" width="8.6" height="62.67" fill="#c0c0c0" />
<rect x="612.68" y="391.88" width="8.6" height="16.95" fill="#4a8cf0" />
<rect x="612.68" y="408.83" width="8.6" height="56.14" fill="#f0666e" />
<rect x="612.68" y="464.96" width="8.6" height="17.88" fill="#8c9cf8" />
<rect x="612.68" y="482.84" width="8.6" height="0.31" fill="#e8b48c" />
<rect x="612.68" y="483.16" width="8.6" height="1.24" fill="#48c0a8" />
<path d="M366.6,314.74 L366.8,313.72 L367,314.67 L367.2,313.41 L367.4,315.68 L367.6,315.24 L367.8,315.76 L368,315.69 L368.2,313.13 L368.4,310.68 L368.6,312.6 L368.8,315.53 L369,315.5 L369.2,316.59 L369.4,312.25 L369.6,314.13 L369.8,312.86 L370,314.89 L370.2,313.16 L370.4,317.09 L370.6,312.07 L370.8,312.98 L371,310.68 L371.2,316.85 L371.4,312.33 L371.6,315.44 L371.8,310.38 L372,311.99 L372.2,311.6 L372.4,312.18 L372.6,315.36 L372.8,309.94 L373,309.91 L373.2,308.74 L373.4,309.04 L373.6,314.91 L373.8,313.56 L374,313.46 L374.2,313 L374.4,312.59 L374.6,309.31 L374.8,311.66 L375,312.42 L375.2,314.53 L375.4,313.63 L375.6,312.32 L375.8,312.75 L376,314.54 L376.2,314.3 L376.4,312.43 L376.6,314.96 L376.8,311.47 L377,311.95 L377.2,311.63 L377.4,314.38 L377.6,309.78 L377.8,312.87 L378,313.5 L378.2,311.76 L378.4,313.25 L378.6,309.98 L378.8,312.76 L379,312.51 L379.2,312.74 L379.4,314.09 L379.6,313.97 L379.8,308.86 L380,311.5 L380.2,308.5 L380.4,310.38 L380.6,310.31 L380.8,313.01 L381,312.98 L381.2,309 L381.4,312.6 L381.6,313.69 L381.8,310.34 L382,312.02 L382.2,312.8 L382.4,308.19 L382.6,311.05 L382.8,311.77 L383,310.38 L383.2,311.95 L383.4,306.52 L383.6,311.85 L383.8,309.57 L384,311.3 L384.2,311 L384.4,312.64 L384.6,307.57 L384.8,307.79 L385,312.69 L385.2,308.29 L385.4,311.3 L385.6,312.72 L385.8,311.57 L386,309.41 L386.2,309.5 L386.4,308.52 L386.6,312.25 L386.8,307.65 L387,312.04 L387.2,309.04 L387.4,309.51 L387.6,309.47 L387.8,305.05 L388,308.42 L388.2,309.63 L388.4,307.9 L388.6,309.08 L388.8,311.26 L389,311.5 L389.2,311.65 L389.4,305.31 L389.6,306.68 L389.8,306.35 L390,306.38 L390.2,308.51 L390.4,308.53 L390.6,305.47 L390.8,308.74 L391,305.92 L391.2,305.47 L391.4,308.09 L391.6,309.46 L391.8,305.14 L392,306.74 L392.2,306.21 L392.4,306.38 L392.6,305.58 L392.8,308.3 L393,306.43 L393.2,304.03 L393.4,303.45 L393.6,305.82 L393.8,307.78 L394,307.22 L394.2,309.94 L394.4,305.95 L394.6,309.74 L394.8,310 L395,312.27 L395.2,315 L395.4,314.98 L395.6,311.74 L395.8,310.31 L396,311.76 L396.2,311.84 L396.4,311.53 L396.6,313.46 L396.8,312.02 L397,314.82 L397.2,313.85 L397.4,309.95 L397.6,312.62 L397.8,313.03 L398,313.08 L398.2,311.64 L398.4,312.69 L398.6,308.69 L398.8,310.89 L399,314.61 L399.2,313.46 L399.4,311.48 L399.6,313.33 L399.8,310.31 L400,313.44 L400.2,313 L400.4,311.66 L400.6,312.59 L400.8,311.8 L401,311.49 L401.2,309.9 L401.4,311.17 L401.6,308.79 L401.8,310.21 L402,310.93 L402.2,313.89 L402.4,313.32 L402.6,312.15 L402.8,309.67 L403,312.84 L403.2,311 L403.4,309.95 L403.6,308.43 L403.8,313.79 L404,312.37 L404.2,314.05 L404.4,312.8 L404.6,310.77 L404.8,312.33 L405,312.07 L405.2,312.61 L405.4,313.18 L405.6,310.54 L405.8,308.34 L406,312.46 L406.2,309.66 L406.4,309.17 L406.6,311.31 L406.8,311.78 L407,311.05 L407.2,313.14 L407.4,309.18 L407.6,308.34 L407.8,308.31 L408,313.68 L408.2,310.33 L408.4,310.22 L408.6,308.58 L408.8,308.5 L409,308.47 L409.2,310.24 L409.4,311.64 L409.6,308.41 L409.8,308.71 L410,309.26 L410.2,313.16 L410.4,312.53 L410.6,308.5 L410.8,305.45 L411,310.34 L411.2,308.21 L411.4,313 L411.6,309.81 L411.8,310.11 L412,309.03 L412.2,308.45 L412.4,310.26 L412.6,310.44 L412.8,306.3 L413,310.05 L413.2,313.07 L413.4,310.71 L413.6,310.1 L413.8,309.07 L414,307.48 L414.2,304.78 L414.4,310.4 L414.6,311.97 L414.8,309.33 L415,311.82 L415.2,309.48 L415.4,311.01 L415.6,309.4 L415.8,305.4 L416,309.1 L416.2,306 L416.4,309.52 L416.6,310.36 L416.8,308.43 L417,308.2 L417.2,310.1 L417.4,305.34 L417.6,312.59 L417.8,312.56 L418,312.35 L418.2,309.08 L418.4,311.17 L418.6,308.03 L418.8,308.54 L419,310.22 L419.2,309.65 L419.4,310.63 L419.6,308.81 L419.8,309.97 L420,310.92 L420.2,310.24 L420.4,306.91 L420.6,303.73 L420.8,308.34 L421,309.23 L421.2,303.66 L421.4,310.56 L421.6,310.58 L421.8,308.75 L422,304.16 L422.2,308.32 L422.4,311.2 L422.6,309.65 L422.8,310.02 L423,309.69 L423.2,311.93 L423.4,307.8 L423.6,308.19 L423.8,308.74 L424,311.17 L424.2,307.22 L424.4,309.76 L424.6,308.43 L424.8,309.29 L425,310.21 L425.2,310.21 L425.4,308.97 L425.6,310.05 L425.8,304.41 L426,310.09 L426.2,309.07 L426.4,308.69 L426.6,304.3 L426.8,309.06 L427,310.29 L427.2,305.53 L427.4,309.5 L427.6,309.37 L427.8,311.41 L428,307.7 L428.2,303.6 L428.4,309.37 L428.6,311.05 L428.8,307.54 L429,308.78 L429.2,310.2 L429.4,306.48 L429.6,308.48 L429.8,308.65 L430,308.72 L430.2,311.39 L430.4,308.24 L430.6,309.04 L430.8,310.28 L431,308.81 L431.2,309.31 L431.4,307.75 L431.6,309.65 L431.8,309.07 L432,309.48 L432.2,308.53 L432.4,307.95 L432.6,307.83 L432.8,309.03 L433,309.63 L433.2,307.91 L433.4,307.92 L433.6,312.26 L433.8,309.67 L434,311.31 L434.2,310.66 L434.4,311.1 L434.6,308.16 L434.8,310.33 L435,312.16 L435.2,308.13 L435.4,309.64 L435.6,311.3 L435.8,313 L436,311.03 L436.2,308.36 L436.4,311.54 L436.6,311.46 L436.8,310.31 L437,308.47 L437.2,313.16 L437.4,312.47 L437.6,311.13 L437.8,311.1 L438,310.06 L438.2,310.55 L438.4,304.96 L438.6,310.32 L438.8,313.42 L439,309.79 L439.2,313.41 L439.4,310.07 L439.6,305.96 L439.8,312.58 L440,307.5 L440.2,305.89 L440.4,311.04 L440.6,310.31 L440.8,312.22 L441,311.62 L441.2,313.24 L441.4,310.62 L441.6,307.82 L441.8,306.72 L442,312.63 L442.2,307.85 L442.4,310.87 L442.6,313.2 L442.8,309.72 L443,310.87 L443.2,310.57 L443.4,308.9 L443.6,310.56 L443.8,308.75 L444,307.45 L444.2,312.59 L444.4,312.46 L444.6,308.01 L444.8,312.17 L445,310.07 L445.2,311.07 L445.4,309.18 L445.6,311.61 L445.8,310.38 L446,312.98 L446.2,311.6 L446.4,311.18 L446.6,310.39 L446.8,308.19 L447,312.26 L447.2,309.5 L447.4,311.2 L447.6,308.41 L447.8,310.67 L448,309.57 L448.2,310.19 L448.4,311.52 L448.6,309.74 L448.8,312.24 L449,311.39 L449.2,309.89 L449.4,309.3 L449.6,310.88 L449.8,310.51 L450,310.05 L450.2,309.21 L450.4,309.1 L450.6,308.45 L450.8,310.47 L451,308.78 L451.2,311.8 L451.4,312.64 L451.6,305.05 L451.8,306.19 L452,308.4 L452.2,310.38 L452.4,307.92 L452.6,309.73 L452.8,309.82 L453,310.19 L453.2,309.11 L453.4,308.5 L453.6,309.47 L453.8,310.26 L454,309.09 L454.2,310.63 L454.4,309.2 L454.6,308.16 L454.8,309.11 L455,311.48 L455.2,307.98 L455.4,309.7 L455.6,308.19 L455.8,310 L456,308.47 L456.2,307.73 L456.4,309.31 L456.6,306.52 L456.8,305.75 L457,310.4 L457.2,310.4 L457.4,308.53 L457.6,308.52 L457.8,307.28 L458,310.84 L458.2,312.15 L458.4,310.06 L458.6,309.98 L458.8,306.61 L459,308.9 L459.2,309.91 L459.4,311.41 L459.6,308.27 L459.8,312.37 L460,311.29 L460.2,311.87 L460.4,310.59 L460.6,312.22 L460.8,312.59 L461,310.4 L461.2,308.87 L461.4,312.97 L461.6,308.91 L461.8,310.61 L462,309.74 L462.2,312.12 L462.4,313.06 L462.6,311.4 L462.8,311.76 L463,309.94 L463.2,310.81 L463.4,312.39 L463.6,313.17 L463.8,309.4 L464,312.96 L464.2,307.9 L464.4,313.06 L464.6,310.89 L464.8,309.71 L465,307.76 L465.2,312.3 L465.4,308.83 L465.6,309.56 L465.8,308.64 L466,313.05 L466.2,307.09 L466.4,306.45 L466.6,309.03 L466.8,310.56 L467,308.52 L467.2,311.39 L467.4,309.88 L467.6,313.13 L467.8,311.88 L468,311.62 L468.2,309.56 L468.4,309.95 L468.6,313.38 L468.8,313.56 L469,312.66 L469.2,311.98 L469.4,306.75 L469.6,311.31 L469.8,308.96 L470,312.56 L470.2,310.31 L470.4,306.76 L470.6,306.37 L470.8,308.77 L471,311.32 L471.2,310.02 L471.4,307.79 L471.6,310.23 L471.8,306.55 L472,311.73 L472.2,310.26 L472.4,310.09 L472.6,307.38 L472.8,310.9 L473,309.43 L473.2,311.03 L473.4,309.03 L473.6,306.92 L473.8,308.36 L474,309.52 L474.2,309.9 L474.4,312.7 L474.6,310.35 L474.8,309.88 L475,309.92 L475.2,305.74 L475.4,311.23 L475.6,308.94 L475.8,308.14 L476,307.98 L476.2,306.61 L476.4,310.63 L476.6,307.29 L476.8,311.06 L477,307.25 L477.2,312.36 L477.4,310.74 L477.6,310.03 L477.8,307.41 L478,310.19 L478.2,306.4 L478.4,307.04 L478.6,311.18 L478.8,304.29 L479,311.98 L479.2,306.46 L479.4,311.64 L479.6,307.04 L479.8,307.47 L480,308.61 L480.2,310.12 L480.4,309.54 L480.6,309.07 L480.8,312.43 L481,311.7 L481.2,309.13 L481.4,311.41 L481.6,309.94 L481.8,307.96 L482,311.85 L482.2,310.04 L482.4,308.92 L482.6,310.71 L482.8,309.49 L483,311.56 L483.2,309.51 L483.4,310.28 L483.6,311.35 L483.8,309.12 L484,312.39 L484.2,306.13 L484.4,304.38 L484.6,308.31 L484.8,306.34 L485,307.85 L485.2,307.13 L485.4,310.49 L485.6,309.46 L485.8,307.5 L486,309.23 L486.2,307.07 L486.4,309.75 L486.6,308.18 L486.8,307.85 L487,310.63 L487.2,306.94 L487.4,306.26 L487.6,310.28 L487.8,305.46 L488,309.97 L488.2,308.18 L488.4,311.71 L488.6,309.79 L488.8,310.15 L489,309.86 L489.2,310.35 L489.4,308.87 L489.6,306.17 L489.8,311.95 L490,308.61 L490.2,308.25 L490.4,311.32 L490.6,310.66 L490.8,309.25 L491,306.31 L491.2,308.83 L491.4,307.37 L491.6,307.7 L491.8,306.69 L492,309.84 L492.2,309.26 L492.4,311.75 L492.6,307.84 L492.8,305.6 L493,307.48 L493.2,307.4 L493.4,309.61 L493.6,306.28 L493.8,307.33 L494,310.03 L494.2,307.26 L494.4,305.47 L494.6,309.51 L494.8,307.47 L495,311.44 L495.2,309.82 L495.4,308.9 L495.6,308.54 L495.8,308.92 L496,307.28 L496.2,307.59 L496.4,309.19 L496.6,308.75 L496.8,307.85 L497,309.52 L497.2,309.39 L497.4,311.45 L497.6,309.77 L497.8,308.79 L498,310.8 L498.2,311.74 L498.4,308.91 L498.6,308.78 L498.8,310.56 L499,310.74 L499.2,307.45 L499.4,310.56 L499.6,312.89 L499.8,311.3 L500,306.93 L500.2,309.08 L500.4,309.72 L500.6,310.86 L500.8,308.91 L501,306.24 L501.2,310.62 L501.4,310.18 L501.6,311.69 L501.8,308.47 L502,308.21 L502.2,310.62 L502.4,309.78 L502.6,310.51 L502.8,309.36 L503,310.62 L503.2,310.41 L503.4,310.41 L503.6,311.27 L503.8,310.74 L504,308.85 L504.2,310.8 L504.4,309.49 L504.6,311.09 L504.8,307.98 L505,311.23 L505.2,309.58 L505.4,310.49 L505.6,308.65 L505.8,310.46 L506,311.89 L506.2,312.46 L506.4,311.29 L506.6,308.32 L506.8,307.49 L507,308.29 L507.2,311.02 L507.4,309.23 L507.6,309.28 L507.8,310.26 L508,310.21 L508.2,312 L508.4,309.86 L508.6,305.03 L508.8,310.89 L509,308.63 L509.2,313.52 L509.4,307.46 L509.6,310.02 L509.8,308.48 L510,311.57 L510.2,311.36 L510.4,308.88 L510.6,305.61 L510.8,310.29 L511,309.72 L511.2,311.85 L511.4,305.58 L511.6,308.11 L511.8,309.92 L512,308.83 L512.2,312.63 L512.4,309.29 L512.6,312.54 L512.8,309.12 L513,309.64 L513.2,308.15 L513.4,309.45 L513.6,307.25 L513.8,313.43 L514,311.14 L514.2,308.15 L514.4,312.88 L514.6,310.34 L514.8,311.94 L515,308.07 L515.2,309.07 L515.4,311.28 L515.6,310.62 L515.8,310.13 L516,309.43 L516.2,313.38 L516.4,308.45 L516.6,312.45 L516.8,311.92 L517,310.55 L517.2,310.38 L517.4,311.12 L517.6,310.2 L517.8,313.21 L518,310.67 L518.2,310.57 L518.4,310.88 L518.6,309.56 L518.8,308.04 L519,306.28 L519.2,311.35 L519.4,307.64 L519.6,310.05 L519.8,311.68 L520,311.06 L520.2,309.72 L520.4,308.71 L520.6,307.79 L520.8,311.31 L521,308.6 L521.2,312.25 L521.4,307.91 L521.6,312.36 L521.8,305.48 L522,309.67 L522.2,311.03 L522.4,308.84 L522.6,311.46 L522.8,308.13 L523,311.59 L523.2,309.12 L523.4,312.84 L523.6,306.6 L523.8,308.13 L524,311.36 L524.2,313.23 L524.4,311.12 L524.6,308.93 L524.8,309.59 L525,308.63 L525.2,304.72 L525.4,310.56 L525.6,309.06 L525.8,310.45 L526,312.65 L526.2,310.59 L526.4,311.56 L526.6,309.5 L526.8,310.46 L527,310.53 L527.2,312.65 L527.4,308.28 L527.6,310.05 L527.8,310.75 L528,311.42 L528.2,308.69 L528.4,309.67 L528.6,313.41 L528.8,309.54 L529,310.68 L529.2,309.43 L529.4,306.63 L529.6,310.44 L529.8,308.18 L530,310.72 L530.2,306.64 L530.4,312.5 L530.6,310.4 L530.8,310.27 L531,311.1 L531.2,310.9 L531.4,306.41 L531.6,309.28 L531.8,309.93 L532,311.22 L532.2,308.32 L532.4,309.69 L532.6,309.19 L532.8,311.96 L533,310.39 L533.2,310.7 L533.4,313.79 L533.6,305.6 L533.8,310.17 L534,306.96 L534.2,310.98 L534.4,306.6 L534.6,306.53 L534.8,309.25 L535,312.38 L535.2,312.38 L535.4,309.84 L535.6,313.08 L535.8,313.98 L536,311.92 L536.2,313.53 L536.4,308.22 L536.6,314.04 L536.8,313.42 L537,309.5 L537.2,311.57 L537.4,310.41 L537.6,307.61 L537.8,310.18 L538,310.82 L538.2,310.27 L538.4,311.73 L538.6,310.64 L538.8,312.15 L539,311.96 L539.2,307.5 L539.4,310.65 L539.6,310.2 L539.8,311.23 L540,312.51 L540.2,313.7 L540.4,311.29 L540.6,314.07 L540.8,312.39 L541,314.39 L541.2,311.73 L541.4,314.42 L541.6,311.47 L541.8,307.81 L542,313.04 L542.2,312.22 L542.4,312.36 L542.6,309.23 L542.8,312.22 L543,311.36 L543.2,312.77 L543.4,312.47 L543.6,306.56 L543.8,306.16 L544,313.16 L544.2,313.54 L544.4,306.07 L544.6,307.95 L544.8,312.09 L545,312.39 L545.2,310.04 L545.4,311.38 L545.6,311.42 L545.8,310.6 L546,311.41 L546.2,312.54 L546.4,310.3 L546.6,311.48 L546.8,310.83 L547,309.3 L547.2,311.52 L547.4,314.44 L547.6,312.04 L547.8,312.52 L548,311 L548.2,308.54 L548.4,310.27 L548.6,305.89 L548.8,310.98 L549,312.26 L549.2,311.62 L549.4,311.19 L549.6,312.25 L549.8,308.34 L550,309.38 L550.2,311.3 L550.4,310.24 L550.6,309.87 L550.8,312.51 L551,307.89 L551.2,313.89 L551.4,311.37 L551.6,312.89 L551.8,312.59 L552,307.5 L552.2,313.29 L552.4,311.95 L552.6,311.23 L552.8,313.1 L553,310.54 L553.2,311.07 L553.4,312.17 L553.6,311.31 L553.8,313.52 L554,310.18 L554.2,311.51 L554.4,310.83 L554.6,310.51 L554.8,309.83 L555,310.13 L555.2,310.17 L555.4,312.51 L555.6,310.64 L555.8,312.84 L556,312.74 L556.2,310.84 L556.4,313.06 L556.6,311.73 L556.8,311.71 L557,308.35 L557.2,312.33 L557.4,309.22 L557.6,309.52 L557.8,310.51 L558,309.05 L558.2,309.46 L558.4,311.28 L558.6,309.2 L558.8,308.94 L559,311.81 L559.2,309.93 L559.4,309.78 L559.6,313.92 L559.8,311.28 L560,311.47 L560.2,312.55 L560.4,311.57 L560.6,311.88 L560.8,311.69 L561,311.79 L561.2,312.2 L561.4,308.24 L561.6,308.5 L561.8,310.62 L562,307.86 L562.2,311.43 L562.4,308.05 L562.6,310.91 L562.8,310.67 L563,306.16 L563.2,310.83 L563.4,311.53 L563.6,307.18 L563.8,308.84 L564,311.33 L564.2,308.96 L564.4,312.17 L564.6,311.52 L564.8,307.29 L565,311.31 L565.2,312.09 L565.4,310 L565.6,310.29 L565.8,312.56 L566,307.79 L566.2,305.98 L566.4,312.4 L566.6,306.58 L566.8,310.69 L567,312.78 L567.2,310.58 L567.4,309.29 L567.6,311.67 L567.8,313.14 L568,307.76 L568.2,308.68 L568.4,311.9 L568.6,312.57 L568.8,310.07 L569,312.18 L569.2,310.48 L569.4,311.26 L569.6,311.88 L569.8,309.62 L570,310.41 L570.2,312.82 L570.4,305.52 L570.6,311.28 L570.8,311.69 L571,310.87 L571.2,311.49 L571.4,306.96 L571.6,312.96 L571.8,310.77 L572,307.14 L572.2,311.7 L572.4,308.38 L572.6,308.09 L572.8,310.39 L573,304.85 L573.2,309.14 L573.4,311.1 L573.6,309.81 L573.8,311.37 L574,312.23 L574.2,307.6 L574.4,309.69 L574.6,309.92 L574.8,308.64 L575,313.27 L575.2,312.54 L575.4,305.34 L575.6,310.8 L575.8,312.11 L576,309.74 L576.2,313.22 L576.4,311.35 L576.6,312.87 L576.8,308.23 L577,312.22 L577.2,309.65 L577.4,307.96 L577.6,311.99 L577.8,311.62 L578,308.68 L578.2,310.92 L578.4,311.63 L578.6,307.2 L578.8,312.34 L579,309.56 L579.2,310.48 L579.4,309.3 L579.6,311.19 L579.8,310.14 L580,310.58 L580.2,310 L580.4,312.44 L580.6,311.45 L580.8,311.5 L581,311.01 L581.2,311.51 L581.4,311.29 L581.6,309.78 L581.8,310.38 L582,312.06 L582.2,309.84 L582.4,313.1 L582.6,310.16 L582.8,312.56 L583,311.65 L583.2,311.61 L583.4,310.34 L583.6,308.34 L583.8,307.99 L584,311.76 L584.2,306.55 L584.4,312.49 L584.6,306.81 L584.8,310.1 L585,312.11 L585.2,312.14 L585.4,312.71 L585.6,308.42 L585.8,308.38 L586,311.17 L586.2,309 L586.4,311.59 L586.6,310.13 L586.8,313.1 L587,310.47 L587.2,310.91 L587.4,308.57 L587.6,309.6 L587.8,307.75 L588,311.77 L588.2,311.57 L588.4,313.1 L588.6,310.04 L588.8,312.02 L589,313.1 L589.2,310.12 L589.4,313.1 L589.6,309.43 L589.8,312.54 L590,312.15 L590.2,310.1 L590.4,309.34 L590.6,310.05 L590.8,304.6 L591,306.41 L591.2,312.01 L591.4,311.32 L591.6,305.14 L591.8,308.16 L592,311.04 L592.2,310.14 L592.4,309.56 L592.6,309.94 L592.8,312.36 L593,306.89 L593.2,309.73 L593.4,310.57 L593.6,311.58 L593.8,309.46 L594,308.94 L594.2,306.13 L594.4,311.53 L594.6,310.85 L594.8,309.44 L595,311.01 L595.2,308.02 L595.4,308.88 L595.6,307.99 L595.8,310.53 L596,309.33 L596.2,310.27 L596.4,310.71 L596.6,307.7 L596.8,308.23 L597,308.36 L597.2,310.93 L597.4,310.1 L597.6,309.35 L597.8,309.3 L598,309.76 L598.2,307.63 L598.4,312.19 L598.6,307.17 L598.8,307.07 L599,307.19 L599.2,311.08 L599.4,309.77 L599.6,311.21 L599.8,311.08 L600,309.61 L600.2,310.02 L600.4,308.5 L600.6,309.36 L600.8,311.66 L601,308.33 L601.2,308.94 L601.4,311.29 L601.6,307.55 L601.8,307.98 L602,310.17 L602.2,309.46 L602.4,309.74 L602.6,304.6 L602.8,311.76 L603,308.05 L603.2,312.79 L603.4,310.54 L603.6,308.26 L603.8,308.23 L604,309.93 L604.2,308.41 L604.4,307.19 L604.6,309.55 L604.8,311.97 L605,310.36 L605.2,310.81 L605.4,313.1 L605.6,309.39 L605.8,312.53 L606,306.81 L606.2,308.93 L606.4,309.14 L606.6,307.52 L606.8,310.41 L607,310.42 L607.2,309.82 L607.4,309.38 L607.6,310.35 L607.8,308.47 L608,309.19 L608.2,309.39 L608.4,310.64 L608.6,309.26 L608.8,309.84 L609,311.93 L609.2,311.34 L609.4,308.88 L609.6,307.39 L609.8,309.47 L610,307.61 L610.2,311.59 L610.4,308.38 L610.6,313.1 L610.8,310.65 L611,309.24 L611.2,310.79 L611.4,310.25 L611.6,307.54 L611.8,309.88 L612,310.33 L612.2,309.23 L612.4,312.78 L612.6,307.46 L612.8,307.58 L613,310.85 L613.2,309.31 L613.4,310.33 L613.6,307.39 L613.8,308.05 L614,312.21 L614.2,310.09 L614.4,310.76 L614.6,313.1 L614.8,312.77 L615,310.78 L615.2,311.93 L615.4,307.38 L615.6,310.34 L615.8,308.7 L616,309.6 L616.2,312.37 L616.4,312.99 L616.6,309.81" stroke="#484848" stroke-width="1.15" fill="none"/>
<path d="M591,303.5 Q603,292.3 622,290.9" stroke="#222" stroke-width="1" fill="none"/>
<path d="M627.6,290.3 L620.3,287.6 L621.6,290.8 L620.6,293.6 Z" fill="#222"/>
<rect x="395.4" y="274.1" width="21.5" height="11.2" fill="#c0c0c0" />
<text x="420" y="283.1" font-size="9.2" fill="#1e1e1e">H<tspan font-size="6.5" dy="2">2</tspan></text>
<rect x="395.4" y="288.2" width="21.5" height="11.2" fill="#8c9cf8" />
<text x="420" y="297.2" font-size="9.2" fill="#1e1e1e">formate</text>
<rect x="454" y="274.1" width="21.5" height="11.2" fill="#e6f08e" />
<text x="478.6" y="283.1" font-size="9.2" fill="#1e1e1e">C3</text>
<rect x="454" y="288.2" width="21.5" height="11.2" fill="#e8b48c" />
<text x="478.6" y="297.2" font-size="9.2" fill="#1e1e1e">CH<tspan font-size="6.5" dy="2">4</tspan></text>
<rect x="498.4" y="274.1" width="21.5" height="11.2" fill="#4a8cf0" />
<text x="523" y="283.1" font-size="9.2" fill="#1e1e1e">ethylene</text>
<rect x="498.4" y="288.2" width="21.5" height="11.2" fill="#48c0a8" />
<text x="523" y="297.2" font-size="9.2" fill="#1e1e1e">CO</text>
<rect x="560.8" y="274.1" width="21.5" height="11.2" fill="#f0666e" />
<text x="585.4" y="283.1" font-size="9.2" fill="#1e1e1e">ethanol</text>
</svg></body></html>
